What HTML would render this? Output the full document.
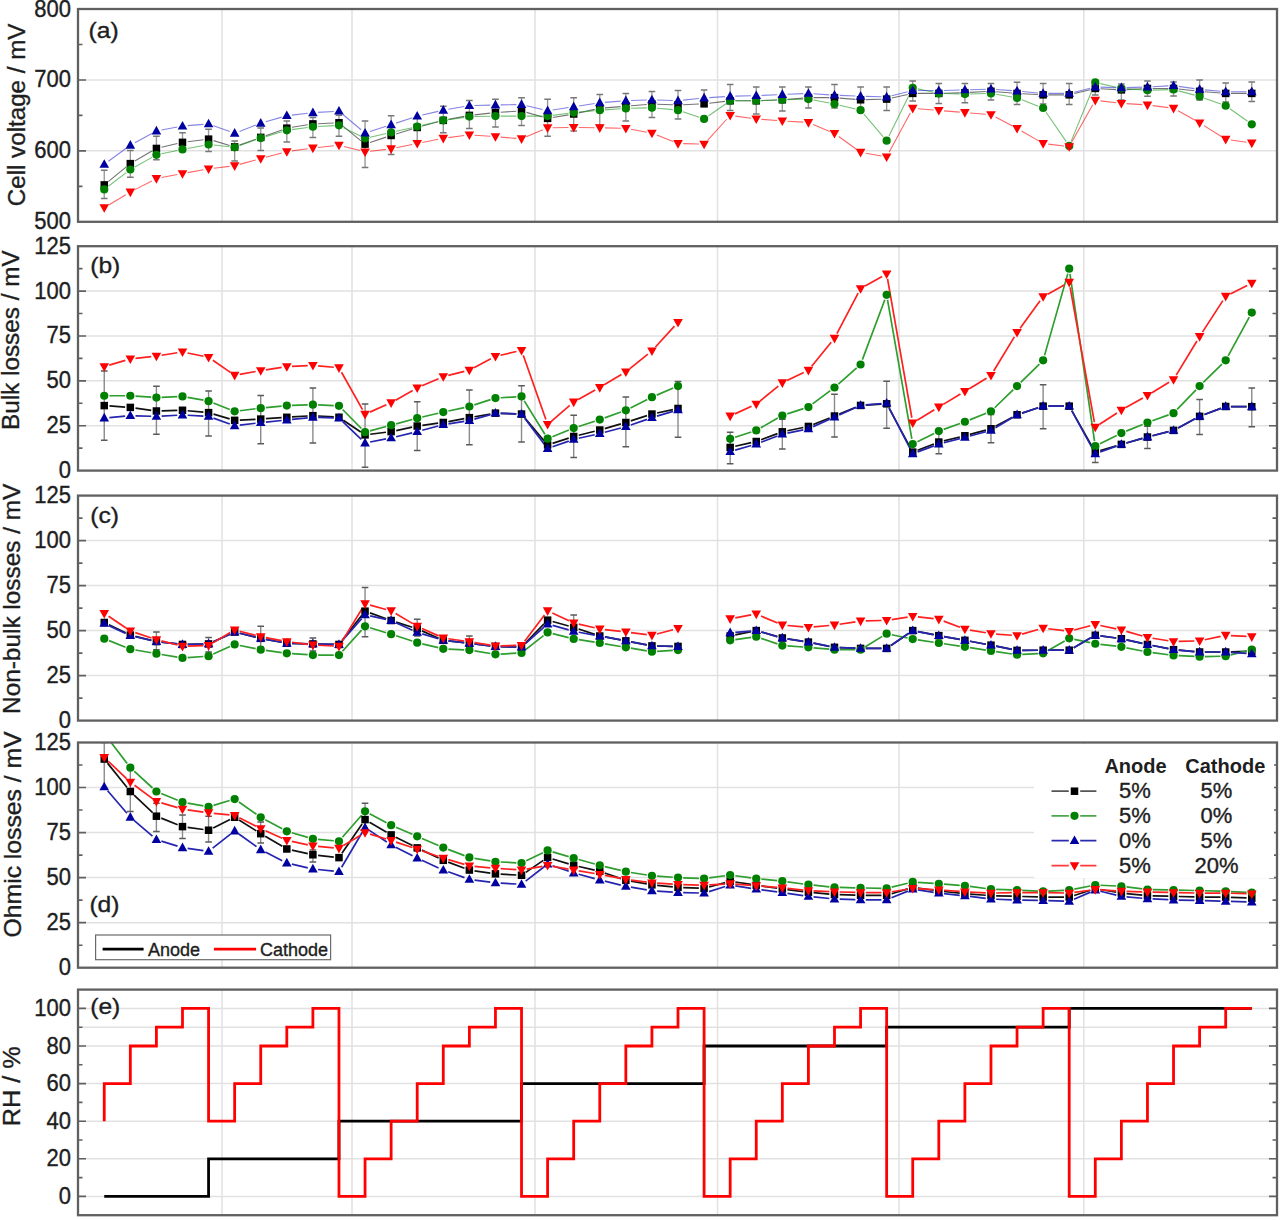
<!DOCTYPE html>
<html><head><meta charset="utf-8"><style>
html,body{margin:0;padding:0;background:#fff;}
body{width:1280px;height:1220px;overflow:hidden;font-family:"Liberation Sans", sans-serif;}
svg{display:block;}
svg text{stroke:#1e1e1e;stroke-width:0.35px;}
svg text.b{stroke:none;}
</style></head><body>
<svg width="1280" height="1220" viewBox="0 0 1280 1220">
<rect width="1280" height="1220" fill="#fff"/>
<defs>
<clipPath id="cpa"><rect x="78" y="9" width="1199" height="212.8"/></clipPath>
<clipPath id="cpb"><rect x="78" y="246.2" width="1199" height="224.4"/></clipPath>
<clipPath id="cpc"><rect x="78" y="495.6" width="1199" height="225"/></clipPath>
<clipPath id="cpd"><rect x="78" y="742.5" width="1199" height="225.2"/></clipPath>
<clipPath id="cpe"><rect x="78" y="989.6" width="1199" height="225.6"/></clipPath>
</defs>
<g font-family='"Liberation Sans", sans-serif' font-size="22" fill="#1e1e1e">
<path d="M78 79.93H1277M78 150.87H1277M222 9V221.8M352 9V221.8M535 9V221.8M717.5 9V221.8M899 9V221.8M1083.8 9V221.8" stroke="#e1e1e1" stroke-width="1.5" fill="none"/>
<g clip-path="url(#cpa)">
<path d="M104.25 170.3V198.4M130.33 150.4V177.3M156.41 136.3V159.8M182.49 132.8V151.6M208.57 129.3V151.6M234.65 141V161M260.73 128V150.4M286.81 121V142M312.89 117.6V137.5M338.97 115.2V136.3M365.05 121V167.5M391.13 115.7V154.4M417.21 118V141M443.29 106.3V132.8M469.37 100.5V128.6M495.45 99.3V127M521.53 97.7V125.5M547.61 99.3V136.3M573.69 97.7V131M599.77 94.6V125M625.85 93.4V121M651.93 91.6V117.4M678.01 90.5V119M704.09 90V105.7M730.17 84.6V110.4M756.25 87V114M782.33 87V111M808.41 87V108M834.49 84.6V108M860.57 87V108M886.65 87V110.4M912.73 81V101M938.81 83.4V103.4M964.89 83.4V102.7M990.97 83.4V100M1017.05 82.3V104.5M1043.13 83.4V104M1069.21 83.4V104.5M1095.29 82V95M1121.37 84V100M1147.45 81V96.3M1173.53 82V96M1199.61 80V100M1225.69 83V102M1251.77 81.9V101.4" stroke="#9a9a9a" stroke-width="1.4" fill="none"/>
<path d="M100.95 170.3H107.55M100.95 198.4H107.55M127.03 150.4H133.63M127.03 177.3H133.63M153.11 136.3H159.71M153.11 159.8H159.71M179.19 132.8H185.79M179.19 151.6H185.79M205.27 129.3H211.87M205.27 151.6H211.87M231.35 141H237.95M231.35 161H237.95M257.43 128H264.03M257.43 150.4H264.03M283.51 121H290.11M283.51 142H290.11M309.59 117.6H316.19M309.59 137.5H316.19M335.67 115.2H342.27M335.67 136.3H342.27M361.75 121H368.35M361.75 167.5H368.35M387.83 115.7H394.43M387.83 154.4H394.43M413.91 118H420.51M413.91 141H420.51M439.99 106.3H446.59M439.99 132.8H446.59M466.07 100.5H472.67M466.07 128.6H472.67M492.15 99.3H498.75M492.15 127H498.75M518.23 97.7H524.83M518.23 125.5H524.83M544.31 99.3H550.91M544.31 136.3H550.91M570.39 97.7H576.99M570.39 131H576.99M596.47 94.6H603.07M596.47 125H603.07M622.55 93.4H629.15M622.55 121H629.15M648.63 91.6H655.23M648.63 117.4H655.23M674.71 90.5H681.31M674.71 119H681.31M700.79 90H707.39M700.79 105.7H707.39M726.87 84.6H733.47M726.87 110.4H733.47M752.95 87H759.55M752.95 114H759.55M779.03 87H785.63M779.03 111H785.63M805.11 87H811.71M805.11 108H811.71M831.19 84.6H837.79M831.19 108H837.79M857.27 87H863.87M857.27 108H863.87M883.35 87H889.95M883.35 110.4H889.95M909.43 81H916.03M909.43 101H916.03M935.51 83.4H942.11M935.51 103.4H942.11M961.59 83.4H968.19M961.59 102.7H968.19M987.67 83.4H994.27M987.67 100H994.27M1013.75 82.3H1020.35M1013.75 104.5H1020.35M1039.83 83.4H1046.43M1039.83 104H1046.43M1065.91 83.4H1072.51M1065.91 104.5H1072.51M1091.99 82H1098.59M1091.99 95H1098.59M1118.07 84H1124.67M1118.07 100H1124.67M1144.15 81H1150.75M1144.15 96.3H1150.75M1170.23 82H1176.83M1170.23 96H1176.83M1196.31 80H1202.91M1196.31 100H1202.91M1222.39 83H1228.99M1222.39 102H1228.99M1248.47 81.9H1255.07M1248.47 101.4H1255.07" stroke="#777" stroke-width="1.5" fill="none"/>
<path d="M108.28 181.63L126.3 166.92M134.82 161.02L151.92 151.07M161.47 147.27L177.43 143.54M187.65 141.72L203.41 139.79M213.56 140.64L229.66 145.42M239.54 145.11L255.84 139.17M265.63 135.66L281.91 129.9M291.94 127.33L307.76 124.75M318.09 123.69L333.77 123M342.99 126.07L361.03 140.83M369.99 142.49L386.19 137.11M396.1 133.95L412.24 128.99M422.23 126.09L438.27 121.73M448.4 119.39L464.26 116.37M474.54 114.84L490.28 113.13M500.64 112.24L516.34 111.26M526.53 112.36L542.61 116.95M552.74 117.51L568.56 114.85M578.77 112.88L594.69 109.41M604.95 107.88L620.67 106.6M631.03 105.76L646.75 104.47M657.13 104.22L672.81 104.73M683.21 104.69L698.89 104.05M709.25 103.23L725.01 101.39M735.37 100.79L751.05 100.79M761.45 100.59L777.13 99.99M787.51 99.37L803.23 98.09M813.61 97.67L829.29 97.67M839.67 98.09L855.39 99.37M865.77 99.65L881.45 99.23M891.73 97.98L907.65 94.52M917.93 93.41L933.61 93.41M944.01 93.27L959.69 92.84M970.08 92.42L985.78 91.57M996.15 91.71L1011.87 92.99M1022.24 93.69L1037.94 94.55M1048.33 94.83L1064.01 94.83M1074.26 93.59L1090.24 89.68M1100.48 88.73L1116.18 89.58M1126.56 89.58L1142.26 88.73M1152.65 88.45L1168.33 88.45M1178.7 89.01L1194.44 90.72M1204.79 91.71L1220.51 92.99M1230.89 93.41L1246.57 93.41" stroke="#000" stroke-width="1.1" fill="none" stroke-opacity="0.55" stroke-linecap="butt"/>
<path d="M108.38 186.3L126.2 172.68M134.86 166.97L151.88 157.39M161.5 153.79L177.4 150.5M187.6 148.48L203.46 145.46M213.74 145.05L229.48 146.76M239.55 145.59L255.83 139.83M265.71 136.61L281.83 131.79M291.96 129.6L307.74 127.45M318.08 126.47L333.78 125.61M343.63 127.65L360.39 135.99M370.12 137.17L386.06 133.57M396.2 131.28L412.14 127.68M422.27 125.34L438.23 121.56M448.44 119.62L464.22 117.35M474.57 116.51L490.25 116.21M500.65 116.11L516.33 116.11M526.73 116.11L542.41 116.11M552.76 115.41L568.54 113.26M578.87 112.1L594.59 110.69M604.96 109.87L620.66 108.8M631.05 108.31L646.73 107.88M657.11 108.22L672.83 109.67M682.94 111.81L699.16 117.28M708.36 115.98L725.9 103.76M735.37 100.79L751.05 100.79M761.45 100.59L777.13 99.99M787.53 99.65L803.21 99.23M813.52 100.06L829.38 103.08M839.55 105.24L855.51 108.97M863.94 114.11L883.28 136.77M888.95 136.06L910.43 92.4M917.81 88.84L933.73 92.31M944.01 93.55L959.69 93.98M970.09 93.98L985.77 93.55M996.09 94.3L1011.93 97.06M1021.9 99.82L1038.28 106.15M1046.08 112.31L1066.26 141.62M1071.19 141.09L1093.31 87.23M1100.36 83.59L1116.3 87.27M1126.56 88.8L1142.26 89.87M1152.65 90.08L1168.33 89.65M1178.55 90.85L1194.59 95.12M1204.51 98.21L1220.79 104.01M1229.92 108.77L1247.54 121.32" stroke="#1a9a1a" stroke-width="1.1" fill="none" stroke-opacity="0.6" stroke-linecap="butt"/>
<path d="M108.44 161.27L126.14 148.27M134.9 142.71L151.84 133.49M161.52 130.03L177.38 127.01M187.67 125.62L203.39 124.33M213.46 125.67L229.76 131.52M239.5 131.4L255.88 125.08M265.73 121.76L281.81 117.12M291.98 115.09L307.72 113.29M318.08 112.39L333.78 111.45M342.95 114.5L361.07 129.78M370 131.54L386.18 126.35M396.07 123.13L412.27 117.75M422.28 114.96L438.22 111.37M448.41 109.32L464.25 106.52M474.57 105.48L490.25 105.1M500.65 104.87L516.33 104.58M526.59 105.69L542.55 109.51M552.75 109.94L568.55 107.53M578.83 105.96L594.63 103.56M604.95 102.36L620.67 101.13M631.05 100.53L646.73 99.98M657.13 99.98L672.81 100.53M683.18 100.17L698.92 98.5M709.28 97.61L724.98 96.59M735.37 96.13L751.05 95.79M761.44 95.44L777.14 94.71M787.53 94.26L803.21 93.62M813.6 93.76L829.3 94.83M839.69 95.4L855.37 96.04M865.77 96.39L881.45 96.82M891.7 95.72L907.68 91.81M917.93 90.57L933.61 90.57M944.01 90.43L959.69 90.01M970.09 89.72L985.77 89.3M996.16 89.52L1011.86 90.63M1022.23 91.48L1037.95 92.93M1048.33 93.41L1064.01 93.41M1074.26 92.17L1090.24 88.26M1100.49 87.17L1116.17 87.59M1126.57 87.59L1142.25 87.17M1152.64 86.74L1168.34 85.89M1178.68 86.35L1194.46 88.63M1204.79 89.83L1220.51 91.24M1230.89 91.71L1246.57 91.71" stroke="#2020d0" stroke-width="1.1" fill="none" stroke-opacity="0.55" stroke-linecap="butt"/>
<path d="M108.71 204.94L125.87 194.68M134.95 189.62L151.79 180.92M161.52 177.56L177.38 174.54M187.61 172.65L203.45 169.8M213.73 168.27L229.49 166.38M239.67 164.4L255.71 160.03M265.75 157.3L281.79 152.94M291.96 150.88L307.74 148.73M318.06 147.47L333.8 145.75M344.01 146.48L360.01 150.57M370.21 151.24L385.97 149.36M396.23 147.7L412.11 144.46M422.31 142.42L438.19 139.31M448.44 137.62L464.22 135.52M474.56 135.2L490.26 136.31M500.63 137.1L516.35 138.39M526.32 136.78L542.82 129.77M552.81 127.69L568.49 127.52M578.89 127.52L594.57 127.69M604.97 127.87L620.65 128.25M630.97 129.31L646.81 132.2M656.76 135.05L673.18 141.57M683.21 143.63L698.89 144.06M707.58 140.34L726.68 119.25M735.32 116.1L751.1 118.25M761.44 119.33L777.14 120.48M787.52 121.19L803.22 122.17M813.21 124.5L829.69 131.41M838.7 136.47L856.36 149.24M865.69 153.18L881.53 155.93M889.11 152.24L910.27 112.89M917.91 108.73L933.63 110.01M943.99 110.86L959.71 112.14M970.07 112.99L985.79 114.27M995.57 117.11L1012.45 125.96M1021.55 130.99L1038.63 140.88M1048.29 144.11L1064.05 145.99M1071.76 142.08L1092.74 104.75M1100.45 100.84L1116.21 102.72M1126.56 103.67L1142.26 104.65M1152.61 105.63L1168.37 107.65M1178.07 110.84L1195.07 120.32M1204.01 125.61L1221.29 136.47M1230.83 139.99L1246.63 142.31" stroke="#ff0000" stroke-width="1.1" fill="none" stroke-opacity="0.6" stroke-linecap="butt"/>
<rect x="100.5" y="181.16" width="7.5" height="7.5" fill="#000"/><rect x="126.58" y="159.88" width="7.5" height="7.5" fill="#000"/><rect x="152.66" y="144.7" width="7.5" height="7.5" fill="#000"/><rect x="178.74" y="138.6" width="7.5" height="7.5" fill="#000"/><rect x="204.82" y="135.41" width="7.5" height="7.5" fill="#000"/><rect x="230.9" y="143.14" width="7.5" height="7.5" fill="#000"/><rect x="256.98" y="133.64" width="7.5" height="7.5" fill="#000"/><rect x="283.06" y="124.42" width="7.5" height="7.5" fill="#000"/><rect x="309.14" y="120.16" width="7.5" height="7.5" fill="#000"/><rect x="335.22" y="119.03" width="7.5" height="7.5" fill="#000"/><rect x="361.3" y="140.38" width="7.5" height="7.5" fill="#000"/><rect x="387.38" y="131.72" width="7.5" height="7.5" fill="#000"/><rect x="413.46" y="123.71" width="7.5" height="7.5" fill="#000"/><rect x="439.54" y="116.62" width="7.5" height="7.5" fill="#000"/><rect x="465.62" y="111.65" width="7.5" height="7.5" fill="#000"/><rect x="491.7" y="108.81" width="7.5" height="7.5" fill="#000"/><rect x="517.78" y="107.18" width="7.5" height="7.5" fill="#000"/><rect x="543.86" y="114.63" width="7.5" height="7.5" fill="#000"/><rect x="569.94" y="110.23" width="7.5" height="7.5" fill="#000"/><rect x="596.02" y="104.56" width="7.5" height="7.5" fill="#000"/><rect x="622.1" y="102.43" width="7.5" height="7.5" fill="#000"/><rect x="648.18" y="100.3" width="7.5" height="7.5" fill="#000"/><rect x="674.26" y="101.15" width="7.5" height="7.5" fill="#000"/><rect x="700.34" y="100.09" width="7.5" height="7.5" fill="#000"/><rect x="726.42" y="97.04" width="7.5" height="7.5" fill="#000"/><rect x="752.5" y="97.04" width="7.5" height="7.5" fill="#000"/><rect x="778.58" y="96.04" width="7.5" height="7.5" fill="#000"/><rect x="804.66" y="93.92" width="7.5" height="7.5" fill="#000"/><rect x="830.74" y="93.92" width="7.5" height="7.5" fill="#000"/><rect x="856.82" y="96.04" width="7.5" height="7.5" fill="#000"/><rect x="882.9" y="95.34" width="7.5" height="7.5" fill="#000"/><rect x="908.98" y="89.66" width="7.5" height="7.5" fill="#000"/><rect x="935.06" y="89.66" width="7.5" height="7.5" fill="#000"/><rect x="961.14" y="88.95" width="7.5" height="7.5" fill="#000"/><rect x="987.22" y="87.53" width="7.5" height="7.5" fill="#000"/><rect x="1013.3" y="89.66" width="7.5" height="7.5" fill="#000"/><rect x="1039.38" y="91.08" width="7.5" height="7.5" fill="#000"/><rect x="1065.46" y="91.08" width="7.5" height="7.5" fill="#000"/><rect x="1091.54" y="84.7" width="7.5" height="7.5" fill="#000"/><rect x="1117.62" y="86.11" width="7.5" height="7.5" fill="#000"/><rect x="1143.7" y="84.7" width="7.5" height="7.5" fill="#000"/><rect x="1169.78" y="84.7" width="7.5" height="7.5" fill="#000"/><rect x="1195.86" y="87.53" width="7.5" height="7.5" fill="#000"/><rect x="1221.94" y="89.66" width="7.5" height="7.5" fill="#000"/><rect x="1248.02" y="89.66" width="7.5" height="7.5" fill="#000"/>
<circle cx="104.25" cy="189.45" r="4.1" fill="#008000"/><circle cx="130.33" cy="169.52" r="4.1" fill="#008000"/><circle cx="156.41" cy="154.84" r="4.1" fill="#008000"/><circle cx="182.49" cy="149.45" r="4.1" fill="#008000"/><circle cx="208.57" cy="144.48" r="4.1" fill="#008000"/><circle cx="234.65" cy="147.32" r="4.1" fill="#008000"/><circle cx="260.73" cy="138.1" r="4.1" fill="#008000"/><circle cx="286.81" cy="130.3" r="4.1" fill="#008000"/><circle cx="312.89" cy="126.75" r="4.1" fill="#008000"/><circle cx="338.97" cy="125.33" r="4.1" fill="#008000"/><circle cx="365.05" cy="138.31" r="4.1" fill="#008000"/><circle cx="391.13" cy="132.42" r="4.1" fill="#008000"/><circle cx="417.21" cy="126.54" r="4.1" fill="#008000"/><circle cx="443.29" cy="120.37" r="4.1" fill="#008000"/><circle cx="469.37" cy="116.61" r="4.1" fill="#008000"/><circle cx="495.45" cy="116.11" r="4.1" fill="#008000"/><circle cx="521.53" cy="116.11" r="4.1" fill="#008000"/><circle cx="547.61" cy="116.11" r="4.1" fill="#008000"/><circle cx="573.69" cy="112.56" r="4.1" fill="#008000"/><circle cx="599.77" cy="110.22" r="4.1" fill="#008000"/><circle cx="625.85" cy="108.45" r="4.1" fill="#008000"/><circle cx="651.93" cy="107.74" r="4.1" fill="#008000"/><circle cx="678.01" cy="110.15" r="4.1" fill="#008000"/><circle cx="704.09" cy="118.95" r="4.1" fill="#008000"/><circle cx="730.17" cy="100.79" r="4.1" fill="#008000"/><circle cx="756.25" cy="100.79" r="4.1" fill="#008000"/><circle cx="782.33" cy="99.79" r="4.1" fill="#008000"/><circle cx="808.41" cy="99.09" r="4.1" fill="#008000"/><circle cx="834.49" cy="104.05" r="4.1" fill="#008000"/><circle cx="860.57" cy="110.15" r="4.1" fill="#008000"/><circle cx="886.65" cy="140.72" r="4.1" fill="#008000"/><circle cx="912.73" cy="87.74" r="4.1" fill="#008000"/><circle cx="938.81" cy="93.41" r="4.1" fill="#008000"/><circle cx="964.89" cy="94.12" r="4.1" fill="#008000"/><circle cx="990.97" cy="93.41" r="4.1" fill="#008000"/><circle cx="1017.05" cy="97.95" r="4.1" fill="#008000"/><circle cx="1043.13" cy="108.02" r="4.1" fill="#008000"/><circle cx="1069.21" cy="145.9" r="4.1" fill="#008000"/><circle cx="1095.29" cy="82.42" r="4.1" fill="#008000"/><circle cx="1121.37" cy="88.45" r="4.1" fill="#008000"/><circle cx="1147.45" cy="90.22" r="4.1" fill="#008000"/><circle cx="1173.53" cy="89.51" r="4.1" fill="#008000"/><circle cx="1199.61" cy="96.46" r="4.1" fill="#008000"/><circle cx="1225.69" cy="105.75" r="4.1" fill="#008000"/><circle cx="1251.77" cy="124.34" r="4.1" fill="#008000"/>
<path d="M104.25 159.18L109.05 167.78L99.45 167.78Z" fill="#0000a0"/><path d="M130.33 140.03L135.13 148.63L125.53 148.63Z" fill="#0000a0"/><path d="M156.41 125.85L161.21 134.45L151.61 134.45Z" fill="#0000a0"/><path d="M182.49 120.88L187.29 129.48L177.69 129.48Z" fill="#0000a0"/><path d="M208.57 118.75L213.37 127.35L203.77 127.35Z" fill="#0000a0"/><path d="M234.65 128.12L239.45 136.72L229.85 136.72Z" fill="#0000a0"/><path d="M260.73 118.04L265.53 126.64L255.93 126.64Z" fill="#0000a0"/><path d="M286.81 110.52L291.61 119.12L282.01 119.12Z" fill="#0000a0"/><path d="M312.89 107.54L317.69 116.14L308.09 116.14Z" fill="#0000a0"/><path d="M338.97 105.98L343.77 114.58L334.17 114.58Z" fill="#0000a0"/><path d="M365.05 127.97L369.85 136.57L360.25 136.57Z" fill="#0000a0"/><path d="M391.13 119.6L395.93 128.2L386.33 128.2Z" fill="#0000a0"/><path d="M417.21 110.95L422.01 119.55L412.41 119.55Z" fill="#0000a0"/><path d="M443.29 105.06L448.09 113.66L438.49 113.66Z" fill="#0000a0"/><path d="M469.37 100.45L474.17 109.05L464.57 109.05Z" fill="#0000a0"/><path d="M495.45 99.81L500.25 108.41L490.65 108.41Z" fill="#0000a0"/><path d="M521.53 99.32L526.33 107.92L516.73 107.92Z" fill="#0000a0"/><path d="M547.61 105.56L552.41 114.16L542.81 114.16Z" fill="#0000a0"/><path d="M573.69 101.59L578.49 110.19L568.89 110.19Z" fill="#0000a0"/><path d="M599.77 97.61L604.57 106.21L594.97 106.21Z" fill="#0000a0"/><path d="M625.85 95.56L630.65 104.16L621.05 104.16Z" fill="#0000a0"/><path d="M651.93 94.63L656.73 103.23L647.13 103.23Z" fill="#0000a0"/><path d="M678.01 95.56L682.81 104.16L673.21 104.16Z" fill="#0000a0"/><path d="M704.09 92.79L708.89 101.39L699.29 101.39Z" fill="#0000a0"/><path d="M730.17 91.09L734.97 99.69L725.37 99.69Z" fill="#0000a0"/><path d="M756.25 90.52L761.05 99.12L751.45 99.12Z" fill="#0000a0"/><path d="M782.33 89.31L787.13 97.91L777.53 97.91Z" fill="#0000a0"/><path d="M808.41 88.25L813.21 96.85L803.61 96.85Z" fill="#0000a0"/><path d="M834.49 90.02L839.29 98.62L829.69 98.62Z" fill="#0000a0"/><path d="M860.57 91.09L865.37 99.69L855.77 99.69Z" fill="#0000a0"/><path d="M886.65 91.8L891.45 100.4L881.85 100.4Z" fill="#0000a0"/><path d="M912.73 85.41L917.53 94.01L907.93 94.01Z" fill="#0000a0"/><path d="M938.81 85.41L943.61 94.01L934.01 94.01Z" fill="#0000a0"/><path d="M964.89 84.7L969.69 93.3L960.09 93.3Z" fill="#0000a0"/><path d="M990.97 83.99L995.77 92.59L986.17 92.59Z" fill="#0000a0"/><path d="M1017.05 85.84L1021.85 94.44L1012.25 94.44Z" fill="#0000a0"/><path d="M1043.13 88.25L1047.93 96.85L1038.33 96.85Z" fill="#0000a0"/><path d="M1069.21 88.25L1074.01 96.85L1064.41 96.85Z" fill="#0000a0"/><path d="M1095.29 81.87L1100.09 90.47L1090.49 90.47Z" fill="#0000a0"/><path d="M1121.37 82.58L1126.17 91.18L1116.57 91.18Z" fill="#0000a0"/><path d="M1147.45 81.87L1152.25 90.47L1142.65 90.47Z" fill="#0000a0"/><path d="M1173.53 80.45L1178.33 89.05L1168.73 89.05Z" fill="#0000a0"/><path d="M1199.61 84.21L1204.41 92.81L1194.81 92.81Z" fill="#0000a0"/><path d="M1225.69 86.55L1230.49 95.15L1220.89 95.15Z" fill="#0000a0"/><path d="M1251.77 86.55L1256.57 95.15L1246.97 95.15Z" fill="#0000a0"/>
<path d="M104.25 212.77L109.05 204.17L99.45 204.17Z" fill="#ff0000"/><path d="M130.33 197.17L135.13 188.57L125.53 188.57Z" fill="#ff0000"/><path d="M156.41 183.69L161.21 175.09L151.61 175.09Z" fill="#ff0000"/><path d="M182.49 178.73L187.29 170.13L177.69 170.13Z" fill="#ff0000"/><path d="M208.57 174.04L213.37 165.44L203.77 165.44Z" fill="#ff0000"/><path d="M234.65 170.92L239.45 162.32L229.85 162.32Z" fill="#ff0000"/><path d="M260.73 163.83L265.53 155.23L255.93 155.23Z" fill="#ff0000"/><path d="M286.81 156.74L291.61 148.14L282.01 148.14Z" fill="#ff0000"/><path d="M312.89 153.19L317.69 144.59L308.09 144.59Z" fill="#ff0000"/><path d="M338.97 150.35L343.77 141.75L334.17 141.75Z" fill="#ff0000"/><path d="M365.05 157.02L369.85 148.42L360.25 148.42Z" fill="#ff0000"/><path d="M391.13 153.9L395.93 145.3L386.33 145.3Z" fill="#ff0000"/><path d="M417.21 148.58L422.01 139.98L412.41 139.98Z" fill="#ff0000"/><path d="M443.29 143.47L448.09 134.87L438.49 134.87Z" fill="#ff0000"/><path d="M469.37 140L474.17 131.4L464.57 131.4Z" fill="#ff0000"/><path d="M495.45 141.84L500.25 133.24L490.65 133.24Z" fill="#ff0000"/><path d="M521.53 143.97L526.33 135.37L516.73 135.37Z" fill="#ff0000"/><path d="M547.61 132.9L552.41 124.3L542.81 124.3Z" fill="#ff0000"/><path d="M573.69 132.62L578.49 124.02L568.89 124.02Z" fill="#ff0000"/><path d="M599.77 132.9L604.57 124.3L594.97 124.3Z" fill="#ff0000"/><path d="M625.85 133.54L630.65 124.94L621.05 124.94Z" fill="#ff0000"/><path d="M651.93 138.29L656.73 129.69L647.13 129.69Z" fill="#ff0000"/><path d="M678.01 148.65L682.81 140.05L673.21 140.05Z" fill="#ff0000"/><path d="M704.09 149.36L708.89 140.76L699.29 140.76Z" fill="#ff0000"/><path d="M730.17 120.56L734.97 111.96L725.37 111.96Z" fill="#ff0000"/><path d="M756.25 124.11L761.05 115.51L751.45 115.51Z" fill="#ff0000"/><path d="M782.33 126.02L787.13 117.42L777.53 117.42Z" fill="#ff0000"/><path d="M808.41 127.65L813.21 119.05L803.61 119.05Z" fill="#ff0000"/><path d="M834.49 138.58L839.29 129.98L829.69 129.98Z" fill="#ff0000"/><path d="M860.57 157.45L865.37 148.85L855.77 148.85Z" fill="#ff0000"/><path d="M886.65 161.99L891.45 153.39L881.85 153.39Z" fill="#ff0000"/><path d="M912.73 113.47L917.53 104.87L907.93 104.87Z" fill="#ff0000"/><path d="M938.81 115.59L943.61 106.99L934.01 106.99Z" fill="#ff0000"/><path d="M964.89 117.72L969.69 109.12L960.09 109.12Z" fill="#ff0000"/><path d="M990.97 119.85L995.77 111.25L986.17 111.25Z" fill="#ff0000"/><path d="M1017.05 133.54L1021.85 124.94L1012.25 124.94Z" fill="#ff0000"/><path d="M1043.13 148.65L1047.93 140.05L1038.33 140.05Z" fill="#ff0000"/><path d="M1069.21 151.77L1074.01 143.17L1064.41 143.17Z" fill="#ff0000"/><path d="M1095.29 105.38L1100.09 96.78L1090.49 96.78Z" fill="#ff0000"/><path d="M1121.37 108.5L1126.17 99.9L1116.57 99.9Z" fill="#ff0000"/><path d="M1147.45 110.13L1152.25 101.53L1142.65 101.53Z" fill="#ff0000"/><path d="M1173.53 113.47L1178.33 104.87L1168.73 104.87Z" fill="#ff0000"/><path d="M1199.61 128.01L1204.41 119.41L1194.81 119.41Z" fill="#ff0000"/><path d="M1225.69 144.39L1230.49 135.79L1220.89 135.79Z" fill="#ff0000"/><path d="M1251.77 148.22L1256.57 139.62L1246.97 139.62Z" fill="#ff0000"/>
</g>
<path d="M78 79.93H86M78 150.87H86M78 44.47H82.5M78 115.4H82.5M78 186.33H82.5" stroke="#606060" stroke-width="1.6" fill="none"/>
<rect x="78" y="9" width="1199" height="212.8" fill="none" stroke="#606060" stroke-width="2.3"/>
<text transform="translate(71 9) scale(1 1.06)" y="7.1" text-anchor="end">800</text>
<text transform="translate(71 79.93) scale(1 1.06)" y="7.1" text-anchor="end">700</text>
<text transform="translate(71 150.87) scale(1 1.06)" y="7.1" text-anchor="end">600</text>
<text transform="translate(71 221.8) scale(1 1.06)" y="7.1" text-anchor="end">500</text>
<path d="M78 291.08H1277M78 335.96H1277M78 380.84H1277M78 425.72H1277M222 246.2V470.6M352 246.2V470.6M535 246.2V470.6M717.5 246.2V470.6M899 246.2V470.6M1083.8 246.2V470.6" stroke="#e1e1e1" stroke-width="1.5" fill="none"/>
<g clip-path="url(#cpb)">
<path d="M104.25 371V440.2M156.41 386.2V434.3M208.57 391V436M260.73 395.6V443.7M312.89 388V443M365.05 404V467.3M417.21 401.8V450.4M469.37 390V444.8M521.53 385.8V442M573.69 415.3V457.5M625.85 397V446.8M678.01 381.6V437.2M730.17 432.2V463.8M782.33 419.3V449M834.49 394.2V436.9M886.65 381.3V428.2M938.81 430V453.7M990.97 414.6V442.7M1043.13 384.8V428.7M1095.29 443.9V462.6M1147.45 426.3V448.6M1199.61 399.4V434.5M1251.77 388V426.8" stroke="#8a8a8a" stroke-width="1.4" fill="none"/>
<path d="M100.95 371H107.55M100.95 440.2H107.55M153.11 386.2H159.71M153.11 434.3H159.71M205.27 391H211.87M205.27 436H211.87M257.43 395.6H264.03M257.43 443.7H264.03M309.59 388H316.19M309.59 443H316.19M361.75 404H368.35M361.75 467.3H368.35M413.91 401.8H420.51M413.91 450.4H420.51M466.07 390H472.67M466.07 444.8H472.67M518.23 385.8H524.83M518.23 442H524.83M570.39 415.3H576.99M570.39 457.5H576.99M622.55 397H629.15M622.55 446.8H629.15M674.71 381.6H681.31M674.71 437.2H681.31M726.87 432.2H733.47M726.87 463.8H733.47M779.03 419.3H785.63M779.03 449H785.63M831.19 394.2H837.79M831.19 436.9H837.79M883.35 381.3H889.95M883.35 428.2H889.95M935.51 430H942.11M935.51 453.7H942.11M987.67 414.6H994.27M987.67 442.7H994.27M1039.83 384.8H1046.43M1039.83 428.7H1046.43M1091.99 443.9H1098.59M1091.99 462.6H1098.59M1144.15 426.3H1150.75M1144.15 448.6H1150.75M1196.31 399.4H1202.91M1196.31 434.5H1202.91M1248.47 388H1255.07M1248.47 426.8H1255.07" stroke="#5a5a5a" stroke-width="1.5" fill="none"/>
<path d="M109.44 405.97L125.14 407.05M135.48 408.12L151.26 410.29M161.61 410.86L177.29 410.42M187.67 410.74L203.39 412.15M213.56 414.09L229.66 418.86M239.84 420.08L255.54 419.33M265.92 418.72L281.62 417.64M292 416.96L307.7 415.99M318.08 415.99L333.78 416.96M343.28 420.19L360.74 431.97M370.21 434.24L385.97 432.28M396.22 430.56L412.12 427.16M422.36 425.37L438.14 423.2M448.4 421.54L464.26 418.59M474.49 416.76L490.33 414.04M500.65 413.33L516.33 413.87M524.89 418.02L544.25 440.96M552.56 443.33L568.74 438.09M578.74 435.24L594.72 431.28M604.77 428.58L620.85 423.93M630.8 420.89L646.98 415.65M657.02 412.97L672.92 409.57M735.24 446.29L751.18 442.67M761.12 439.71L777.46 433.64M787.42 430.77L803.32 427.49M813.24 424.51L829.66 417.95M839.31 414.07L855.75 407.39M865.76 405.11L881.46 404.14M889.12 408.39L910.26 447.53M917.58 450.24L933.96 443.93M943.87 440.84L959.83 436.99M969.91 434.42L985.95 430.12M995.55 426.31L1012.47 417.23M1021.99 413.14L1038.19 407.78M1048.33 406.15L1064.01 406.15M1071.78 410.67L1092.72 447.59M1100.28 450.63L1116.38 445.87M1126.37 442.98L1142.45 438.44M1152.49 435.75L1168.49 431.67M1178.11 427.93L1195.03 418.84M1204.47 414.54L1220.83 408.35M1230.89 406.55L1246.57 406.66" stroke="#111" stroke-width="1.7" fill="none" stroke-opacity="1.0" stroke-linecap="butt"/>
<path d="M109.45 395.74L125.13 395.74M135.52 396.1L151.22 397.18M161.61 397.32L177.29 396.67M187.61 397.37L203.45 400.21M213.41 403.03L229.81 409.46M239.81 410.72L255.57 408.77M265.91 407.63L281.63 406.11M292.01 405.43L307.69 404.9M318.09 404.93L333.77 405.58M342.63 409.49L361.39 428.48M370.07 430.83L386.11 426.53M396.15 423.83L412.19 419.53M422.27 417L438.23 413.26M448.38 410.99L464.28 407.6M474.32 404.91L490.5 399.67M500.64 397.75L516.34 396.78M524.26 400.88L544.88 434.22M552.43 436.69L568.87 430.01M578.64 426.45L594.82 421.22M604.67 417.86L620.95 412.03M630.5 407.95L647.28 399.51M656.71 395.14L673.23 388.09M735.12 437.22L751.3 431.99M760.77 427.81L777.81 418.07M787.28 413.89L803.46 408.65M812.57 403.93L830.33 390.6M838.39 384.04L856.67 367.94M862.39 359.63L884.83 299.72M887.55 299.97L911.83 438.91M917.39 441.72L934.15 433.41M943.71 429.35L959.99 423.52M969.72 419.84L986.14 413.29M994.7 407.74L1013.32 389.67M1020.76 382.4L1039.42 364.02M1044.55 355.37L1067.79 273.64M1069.97 273.78L1094.53 441.04M1099.94 443.85L1116.72 435.42M1126.19 431.12L1142.63 424.45M1152.35 420.74L1168.63 414.91M1177.14 409.41L1196 389.79M1203.32 382.4L1221.98 364.02M1228.18 355.81L1249.28 317.19" stroke="#2e9e2e" stroke-width="1.7" fill="none" stroke-opacity="1.0" stroke-linecap="butt"/>
<path d="M109.43 417.54L125.15 416.13M135.53 415.81L151.21 416.24M161.6 416.1L177.3 415.23M187.68 415.23L203.38 416.1M213.47 418.14L229.75 423.97M239.81 425.12L255.57 423.27M265.9 422.13L281.64 420.51M291.98 419.44L307.72 417.82M318.09 417.43L333.77 417.86M342.73 421.6L361.29 439.36M370.16 441.97L386.02 438.91M396.19 436.71L412.15 432.86M422.23 430.3L438.27 425.99M448.43 423.83L464.23 421.33M474.37 419.1L490.45 414.57M500.65 413.33L516.33 413.87M524.67 418.2L544.47 444.37M552.52 446.8L568.78 441.09M578.77 438.24L594.69 434.74M604.79 432.27L620.83 427.97M630.77 424.93L647.01 419.33M656.92 416.17L673.02 411.4M735.17 450.13L751.25 445.48M761.11 442.19L777.47 436M787.42 433.11L803.32 429.82M813.16 426.65L829.74 419.23M839.24 414.98L855.82 407.56M865.75 404.97L881.47 403.56M889.03 407.72L910.35 449.1M917.6 451.91L933.94 445.84M943.85 442.75L959.85 438.67M969.91 436.04L985.95 431.74M995.43 427.72L1012.59 417.44M1021.99 413.14L1038.19 407.78M1048.33 406.15L1064.01 406.15M1071.71 410.71L1092.79 449.17M1100.19 451.97L1116.47 446.14M1126.37 442.98L1142.45 438.44M1152.49 435.75L1168.49 431.67M1178.11 427.93L1195.03 418.84M1204.47 414.54L1220.83 408.35M1230.89 406.55L1246.57 406.66" stroke="#2525b0" stroke-width="1.7" fill="none" stroke-opacity="1.0" stroke-linecap="butt"/>
<path d="M109.24 365.18L125.34 360.41M135.5 358.37L151.24 356.64M161.55 355.25L177.35 352.75M187.58 352.99L203.48 356.27M212.85 360.27L230.37 372.33M239.77 374.36L255.61 371.52M265.87 369.83L281.67 367.44M292 366.41L307.7 365.65M318.07 365.86L333.79 367.27M341.51 372.27L362.51 409.7M369.81 412.13L386.37 404.84M395.65 400.16L412.69 390.42M421.99 385.8L438.51 378.75M448.33 375.43L464.33 371.35M473.98 367.66L490.84 358.84M500.51 355.24L516.47 351.51M523.26 355.23L545.88 419.56M551.55 421.07L569.75 405.41M578.23 399.49L595.23 390.01M604.23 384.81L621.39 374.54M629.9 368.6L647.88 354.12M655.44 347.02L674.5 326.16M734.9 413.88L751.52 406.33M760.27 400.88L778.31 386.11M787.01 380.56L803.73 372.51M811.7 366.22L831.2 342.32M836.91 333.69L858.15 293.17M865.1 286.01L882.12 276.4M887.55 278.97L911.83 417.73M917.18 420.15L934.36 409.74M943.27 404.38L960.43 394.1M969.32 388.72L986.54 378.17M993.66 371.01L1014.36 336.82M1020.12 328.17L1040.06 300.85M1047.69 294.14L1064.65 284.79M1070.13 287.4L1094.37 422.04M1099.64 424.31L1117.02 412.95M1125.9 407.55L1142.92 397.94M1151.9 392.69L1169.08 382.28M1176.22 375.13L1196.92 340.95M1202.44 332.14L1222.86 300.65M1230.34 293.95L1247.12 285.52" stroke="#ff2020" stroke-width="1.7" fill="none" stroke-opacity="1.0" stroke-linecap="butt"/>
<rect x="100.5" y="401.86" width="7.5" height="7.5" fill="#000"/><rect x="126.58" y="403.66" width="7.5" height="7.5" fill="#000"/><rect x="152.66" y="407.25" width="7.5" height="7.5" fill="#000"/><rect x="178.74" y="406.53" width="7.5" height="7.5" fill="#000"/><rect x="204.82" y="408.87" width="7.5" height="7.5" fill="#000"/><rect x="230.9" y="416.58" width="7.5" height="7.5" fill="#000"/><rect x="256.98" y="415.33" width="7.5" height="7.5" fill="#000"/><rect x="283.06" y="413.53" width="7.5" height="7.5" fill="#000"/><rect x="309.14" y="411.92" width="7.5" height="7.5" fill="#000"/><rect x="335.22" y="413.53" width="7.5" height="7.5" fill="#000"/><rect x="361.3" y="431.13" width="7.5" height="7.5" fill="#000"/><rect x="387.38" y="427.89" width="7.5" height="7.5" fill="#000"/><rect x="413.46" y="422.33" width="7.5" height="7.5" fill="#000"/><rect x="439.54" y="418.74" width="7.5" height="7.5" fill="#000"/><rect x="465.62" y="413.89" width="7.5" height="7.5" fill="#000"/><rect x="491.7" y="409.4" width="7.5" height="7.5" fill="#000"/><rect x="517.78" y="410.3" width="7.5" height="7.5" fill="#000"/><rect x="543.86" y="441.18" width="7.5" height="7.5" fill="#000"/><rect x="569.94" y="432.74" width="7.5" height="7.5" fill="#000"/><rect x="596.02" y="426.28" width="7.5" height="7.5" fill="#000"/><rect x="622.1" y="418.74" width="7.5" height="7.5" fill="#000"/><rect x="648.18" y="410.3" width="7.5" height="7.5" fill="#000"/><rect x="674.26" y="404.74" width="7.5" height="7.5" fill="#000"/><rect x="726.42" y="443.69" width="7.5" height="7.5" fill="#000"/><rect x="752.5" y="437.77" width="7.5" height="7.5" fill="#000"/><rect x="778.58" y="428.07" width="7.5" height="7.5" fill="#000"/><rect x="804.66" y="422.69" width="7.5" height="7.5" fill="#000"/><rect x="830.74" y="412.28" width="7.5" height="7.5" fill="#000"/><rect x="856.82" y="401.68" width="7.5" height="7.5" fill="#000"/><rect x="882.9" y="400.07" width="7.5" height="7.5" fill="#000"/><rect x="908.98" y="448.36" width="7.5" height="7.5" fill="#000"/><rect x="935.06" y="438.31" width="7.5" height="7.5" fill="#000"/><rect x="961.14" y="432.02" width="7.5" height="7.5" fill="#000"/><rect x="987.22" y="425.02" width="7.5" height="7.5" fill="#000"/><rect x="1013.3" y="411.02" width="7.5" height="7.5" fill="#000"/><rect x="1039.38" y="402.4" width="7.5" height="7.5" fill="#000"/><rect x="1065.46" y="402.4" width="7.5" height="7.5" fill="#000"/><rect x="1091.54" y="448.36" width="7.5" height="7.5" fill="#000"/><rect x="1117.62" y="440.64" width="7.5" height="7.5" fill="#000"/><rect x="1143.7" y="433.28" width="7.5" height="7.5" fill="#000"/><rect x="1169.78" y="426.64" width="7.5" height="7.5" fill="#000"/><rect x="1195.86" y="412.63" width="7.5" height="7.5" fill="#000"/><rect x="1221.94" y="402.76" width="7.5" height="7.5" fill="#000"/><rect x="1248.02" y="402.94" width="7.5" height="7.5" fill="#000"/>
<circle cx="104.25" cy="395.74" r="4.1" fill="#008000"/><circle cx="130.33" cy="395.74" r="4.1" fill="#008000"/><circle cx="156.41" cy="397.54" r="4.1" fill="#008000"/><circle cx="182.49" cy="396.46" r="4.1" fill="#008000"/><circle cx="208.57" cy="401.13" r="4.1" fill="#008000"/><circle cx="234.65" cy="411.36" r="4.1" fill="#008000"/><circle cx="260.73" cy="408.13" r="4.1" fill="#008000"/><circle cx="286.81" cy="405.61" r="4.1" fill="#008000"/><circle cx="312.89" cy="404.72" r="4.1" fill="#008000"/><circle cx="338.97" cy="405.79" r="4.1" fill="#008000"/><circle cx="365.05" cy="432.18" r="4.1" fill="#008000"/><circle cx="391.13" cy="425.18" r="4.1" fill="#008000"/><circle cx="417.21" cy="418.18" r="4.1" fill="#008000"/><circle cx="443.29" cy="412.08" r="4.1" fill="#008000"/><circle cx="469.37" cy="406.51" r="4.1" fill="#008000"/><circle cx="495.45" cy="398.07" r="4.1" fill="#008000"/><circle cx="521.53" cy="396.46" r="4.1" fill="#008000"/><circle cx="547.61" cy="438.65" r="4.1" fill="#008000"/><circle cx="573.69" cy="428.05" r="4.1" fill="#008000"/><circle cx="599.77" cy="419.62" r="4.1" fill="#008000"/><circle cx="625.85" cy="410.28" r="4.1" fill="#008000"/><circle cx="651.93" cy="397.18" r="4.1" fill="#008000"/><circle cx="678.01" cy="386.05" r="4.1" fill="#008000"/><circle cx="730.17" cy="438.82" r="4.1" fill="#008000"/><circle cx="756.25" cy="430.39" r="4.1" fill="#008000"/><circle cx="782.33" cy="415.49" r="4.1" fill="#008000"/><circle cx="808.41" cy="407.05" r="4.1" fill="#008000"/><circle cx="834.49" cy="387.48" r="4.1" fill="#008000"/><circle cx="860.57" cy="364.5" r="4.1" fill="#008000"/><circle cx="886.65" cy="294.85" r="4.1" fill="#008000"/><circle cx="912.73" cy="444.03" r="4.1" fill="#008000"/><circle cx="938.81" cy="431.11" r="4.1" fill="#008000"/><circle cx="964.89" cy="421.77" r="4.1" fill="#008000"/><circle cx="990.97" cy="411.36" r="4.1" fill="#008000"/><circle cx="1017.05" cy="386.05" r="4.1" fill="#008000"/><circle cx="1043.13" cy="360.37" r="4.1" fill="#008000"/><circle cx="1069.21" cy="268.64" r="4.1" fill="#008000"/><circle cx="1095.29" cy="446.19" r="4.1" fill="#008000"/><circle cx="1121.37" cy="433.08" r="4.1" fill="#008000"/><circle cx="1147.45" cy="422.49" r="4.1" fill="#008000"/><circle cx="1173.53" cy="413.15" r="4.1" fill="#008000"/><circle cx="1199.61" cy="386.05" r="4.1" fill="#008000"/><circle cx="1225.69" cy="360.37" r="4.1" fill="#008000"/><circle cx="1251.77" cy="312.62" r="4.1" fill="#008000"/>
<path d="M104.25 412.84L109.05 421.44L99.45 421.44Z" fill="#0000a0"/><path d="M130.33 410.51L135.13 419.11L125.53 419.11Z" fill="#0000a0"/><path d="M156.41 411.22L161.21 419.82L151.61 419.82Z" fill="#0000a0"/><path d="M182.49 409.79L187.29 418.39L177.69 418.39Z" fill="#0000a0"/><path d="M208.57 411.22L213.37 419.82L203.77 419.82Z" fill="#0000a0"/><path d="M234.65 420.56L239.45 429.16L229.85 429.16Z" fill="#0000a0"/><path d="M260.73 417.51L265.53 426.11L255.93 426.11Z" fill="#0000a0"/><path d="M286.81 414.82L291.61 423.42L282.01 423.42Z" fill="#0000a0"/><path d="M312.89 412.12L317.69 420.72L308.09 420.72Z" fill="#0000a0"/><path d="M338.97 412.84L343.77 421.44L334.17 421.44Z" fill="#0000a0"/><path d="M365.05 437.79L369.85 446.39L360.25 446.39Z" fill="#0000a0"/><path d="M391.13 432.77L395.93 441.37L386.33 441.37Z" fill="#0000a0"/><path d="M417.21 426.48L422.01 435.08L412.41 435.08Z" fill="#0000a0"/><path d="M443.29 419.48L448.09 428.08L438.49 428.08Z" fill="#0000a0"/><path d="M469.37 415.35L474.17 423.95L464.57 423.95Z" fill="#0000a0"/><path d="M495.45 407.99L500.25 416.59L490.65 416.59Z" fill="#0000a0"/><path d="M521.53 408.89L526.33 417.49L516.73 417.49Z" fill="#0000a0"/><path d="M547.61 443.36L552.41 451.96L542.81 451.96Z" fill="#0000a0"/><path d="M573.69 434.2L578.49 442.8L568.89 442.8Z" fill="#0000a0"/><path d="M599.77 428.46L604.57 437.06L594.97 437.06Z" fill="#0000a0"/><path d="M625.85 421.46L630.65 430.06L621.05 430.06Z" fill="#0000a0"/><path d="M651.93 412.48L656.73 421.08L647.13 421.08Z" fill="#0000a0"/><path d="M678.01 404.76L682.81 413.36L673.21 413.36Z" fill="#0000a0"/><path d="M730.17 446.41L734.97 455.01L725.37 455.01Z" fill="#0000a0"/><path d="M756.25 438.87L761.05 447.47L751.45 447.47Z" fill="#0000a0"/><path d="M782.33 429L787.13 437.6L777.53 437.6Z" fill="#0000a0"/><path d="M808.41 423.61L813.21 432.21L803.61 432.21Z" fill="#0000a0"/><path d="M834.49 411.94L839.29 420.54L829.69 420.54Z" fill="#0000a0"/><path d="M860.57 400.27L865.37 408.87L855.77 408.87Z" fill="#0000a0"/><path d="M886.65 397.94L891.45 406.54L881.85 406.54Z" fill="#0000a0"/><path d="M912.73 448.57L917.53 457.17L907.93 457.17Z" fill="#0000a0"/><path d="M938.81 438.87L943.61 447.47L934.01 447.47Z" fill="#0000a0"/><path d="M964.89 432.23L969.69 440.83L960.09 440.83Z" fill="#0000a0"/><path d="M990.97 425.23L995.77 433.83L986.17 433.83Z" fill="#0000a0"/><path d="M1017.05 409.61L1021.85 418.21L1012.25 418.21Z" fill="#0000a0"/><path d="M1043.13 400.99L1047.93 409.59L1038.33 409.59Z" fill="#0000a0"/><path d="M1069.21 400.99L1074.01 409.59L1064.41 409.59Z" fill="#0000a0"/><path d="M1095.29 448.57L1100.09 457.17L1090.49 457.17Z" fill="#0000a0"/><path d="M1121.37 439.23L1126.17 447.83L1116.57 447.83Z" fill="#0000a0"/><path d="M1147.45 431.87L1152.25 440.47L1142.65 440.47Z" fill="#0000a0"/><path d="M1173.53 425.23L1178.33 433.83L1168.73 433.83Z" fill="#0000a0"/><path d="M1199.61 411.22L1204.41 419.82L1194.81 419.82Z" fill="#0000a0"/><path d="M1225.69 401.35L1230.49 409.95L1220.89 409.95Z" fill="#0000a0"/><path d="M1251.77 401.53L1256.57 410.13L1246.97 410.13Z" fill="#0000a0"/>
<path d="M104.25 371.82L109.05 363.22L99.45 363.22Z" fill="#ff0000"/><path d="M130.33 364.1L135.13 355.5L125.53 355.5Z" fill="#ff0000"/><path d="M156.41 361.23L161.21 352.63L151.61 352.63Z" fill="#ff0000"/><path d="M182.49 357.1L187.29 348.5L177.69 348.5Z" fill="#ff0000"/><path d="M208.57 362.48L213.37 353.88L203.77 353.88Z" fill="#ff0000"/><path d="M234.65 380.43L239.45 371.83L229.85 371.83Z" fill="#ff0000"/><path d="M260.73 375.77L265.53 367.17L255.93 367.17Z" fill="#ff0000"/><path d="M286.81 371.82L291.61 363.22L282.01 363.22Z" fill="#ff0000"/><path d="M312.89 370.56L317.69 361.96L308.09 361.96Z" fill="#ff0000"/><path d="M338.97 372.9L343.77 364.3L334.17 364.3Z" fill="#ff0000"/><path d="M365.05 419.39L369.85 410.79L360.25 410.79Z" fill="#ff0000"/><path d="M391.13 407.9L395.93 399.3L386.33 399.3Z" fill="#ff0000"/><path d="M417.21 393L422.01 384.4L412.41 384.4Z" fill="#ff0000"/><path d="M443.29 381.87L448.09 373.27L438.49 373.27Z" fill="#ff0000"/><path d="M469.37 375.23L474.17 366.63L464.57 366.63Z" fill="#ff0000"/><path d="M495.45 361.59L500.25 352.99L490.65 352.99Z" fill="#ff0000"/><path d="M521.53 355.48L526.33 346.88L516.73 346.88Z" fill="#ff0000"/><path d="M547.61 429.62L552.41 421.02L542.81 421.02Z" fill="#ff0000"/><path d="M573.69 407.18L578.49 398.58L568.89 398.58Z" fill="#ff0000"/><path d="M599.77 392.64L604.57 384.04L594.97 384.04Z" fill="#ff0000"/><path d="M625.85 377.02L630.65 368.42L621.05 368.42Z" fill="#ff0000"/><path d="M651.93 356.02L656.73 347.42L647.13 347.42Z" fill="#ff0000"/><path d="M678.01 327.48L682.81 318.88L673.21 318.88Z" fill="#ff0000"/><path d="M730.17 421.19L734.97 412.59L725.37 412.59Z" fill="#ff0000"/><path d="M756.25 409.34L761.05 400.74L751.45 400.74Z" fill="#ff0000"/><path d="M782.33 387.97L787.13 379.37L777.53 379.37Z" fill="#ff0000"/><path d="M808.41 375.41L813.21 366.81L803.61 366.81Z" fill="#ff0000"/><path d="M834.49 343.45L839.29 334.85L829.69 334.85Z" fill="#ff0000"/><path d="M860.57 293.73L865.37 285.13L855.77 285.13Z" fill="#ff0000"/><path d="M886.65 279.01L891.45 270.41L881.85 270.41Z" fill="#ff0000"/><path d="M912.73 428.01L917.53 419.41L907.93 419.41Z" fill="#ff0000"/><path d="M938.81 412.21L943.61 403.61L934.01 403.61Z" fill="#ff0000"/><path d="M964.89 396.59L969.69 387.99L960.09 387.99Z" fill="#ff0000"/><path d="M990.97 380.61L995.77 372.01L986.17 372.01Z" fill="#ff0000"/><path d="M1017.05 337.53L1021.85 328.93L1012.25 328.93Z" fill="#ff0000"/><path d="M1043.13 301.81L1047.93 293.21L1038.33 293.21Z" fill="#ff0000"/><path d="M1069.21 287.44L1074.01 278.84L1064.41 278.84Z" fill="#ff0000"/><path d="M1095.29 432.32L1100.09 423.72L1090.49 423.72Z" fill="#ff0000"/><path d="M1121.37 415.26L1126.17 406.66L1116.57 406.66Z" fill="#ff0000"/><path d="M1147.45 400.54L1152.25 391.94L1142.65 391.94Z" fill="#ff0000"/><path d="M1173.53 384.74L1178.33 376.14L1168.73 376.14Z" fill="#ff0000"/><path d="M1199.61 341.66L1204.41 333.06L1194.81 333.06Z" fill="#ff0000"/><path d="M1225.69 301.45L1230.49 292.85L1220.89 292.85Z" fill="#ff0000"/><path d="M1251.77 288.34L1256.57 279.74L1246.97 279.74Z" fill="#ff0000"/>
</g>
<path d="M78 291.08H86M1277 291.08H1269M78 335.96H86M1277 335.96H1269M78 380.84H86M1277 380.84H1269M78 425.72H86M1277 425.72H1269M78 268.64H82.5M1277 268.64H1272.5M78 313.52H82.5M1277 313.52H1272.5M78 358.4H82.5M1277 358.4H1272.5M78 403.28H82.5M1277 403.28H1272.5M78 448.16H82.5M1277 448.16H1272.5" stroke="#606060" stroke-width="1.6" fill="none"/>
<rect x="78" y="246.2" width="1199" height="224.4" fill="none" stroke="#606060" stroke-width="2.3"/>
<text transform="translate(71 246.2) scale(1 1.06)" y="7.1" text-anchor="end">125</text>
<text transform="translate(71 291.08) scale(1 1.06)" y="7.1" text-anchor="end">100</text>
<text transform="translate(71 335.96) scale(1 1.06)" y="7.1" text-anchor="end">75</text>
<text transform="translate(71 380.84) scale(1 1.06)" y="7.1" text-anchor="end">50</text>
<text transform="translate(71 425.72) scale(1 1.06)" y="7.1" text-anchor="end">25</text>
<text transform="translate(71 470.6) scale(1 1.06)" y="7.1" text-anchor="end">0</text>
<path d="M78 540.6H1277M78 585.6H1277M78 630.6H1277M78 675.6H1277M222 495.6V720.6M352 495.6V720.6M535 495.6V720.6M717.5 495.6V720.6M899 495.6V720.6M1083.8 495.6V720.6" stroke="#e1e1e1" stroke-width="1.5" fill="none"/>
<g clip-path="url(#cpc)">
<path d="M156.41 632.1V649.7M208.57 637.5V652M260.73 626.2V647.3M312.89 638V650.9M365.05 587.6V636.8M417.21 619.2V636.1M469.37 636.1V647.3M573.69 615V632" stroke="#8a8a8a" stroke-width="1.4" fill="none"/>
<path d="M153.11 632.1H159.71M153.11 649.7H159.71M205.27 637.5H211.87M205.27 652H211.87M257.43 626.2H264.03M257.43 647.3H264.03M309.59 638H316.19M309.59 650.9H316.19M361.75 587.6H368.35M361.75 636.8H368.35M413.91 619.2H420.51M413.91 636.1H420.51M466.07 636.1H472.67M466.07 647.3H472.67M570.39 615H576.99M570.39 632H576.99" stroke="#5a5a5a" stroke-width="1.5" fill="none"/>
<path d="M108.93 624.76L125.65 632.84M135.38 636.35L151.36 640.33M161.58 642.15L177.32 643.89M187.69 644.35L203.37 644.03M213.3 641.76L229.92 634.2M239.7 633.26L255.68 637.12M265.84 639.29L281.7 642.25M292.01 643.34L307.69 643.78M318.09 644.03L333.77 644.35M342.18 640.37L361.84 615.25M369.94 612.92L386.24 618.76M396.09 622.09L412.25 627.23M421.97 630.9L438.53 638.22M448.46 640.89L464.2 642.63M474.53 643.84L490.29 645.8M500.65 646.58L516.33 647.02M525.14 643.42L544 623.9M552.62 621.54L568.68 625.98M578.63 629L594.83 634.36M604.88 636.95L620.74 639.91M630.96 641.85L646.82 644.91M657.13 646.01L672.81 646.33M735.26 634.95L751.16 631.65M761.25 632.02L777.33 636.56M787.47 638.8L803.27 641.3M813.51 643.14L829.39 646.32M839.69 647.56L855.37 648.2M865.77 648.42L881.45 648.42M890.94 645.49L908.44 633.53M917.84 631.59L933.7 634.65M943.93 636.56L959.77 639.4M970 641.27L985.86 644.23M996.07 646.2L1011.95 649.38M1022.25 650.36L1037.93 650.26M1048.33 650.22L1064.01 650.22M1073.72 647.64L1090.78 637.86M1100.45 635.96L1116.21 638.02M1126.45 639.82L1142.37 643.34M1152.55 645.48L1168.43 648.66M1178.71 650.14L1194.43 651.56M1204.81 652.02L1220.49 652.02M1230.89 651.88L1246.57 651.44" stroke="#111" stroke-width="1.7" fill="none" stroke-opacity="1.0" stroke-linecap="butt"/>
<path d="M109.08 640.63L125.5 647.21M135.45 650.02L151.29 652.76M161.54 654.49L177.36 657.11M187.68 657.6L203.38 656.52M213.31 654.03L229.91 646.59M239.75 645.48L255.63 648.66M265.88 650.39L281.66 652.57M292 653.64L307.7 654.72M318.09 655.08L333.77 655.08M342.46 651.23L361.56 630.13M370.03 627.79L386.15 632.69M396.08 635.8L412.26 641.06M422.27 643.85L438.23 647.59M448.48 649.03L464.18 649.79M474.5 650.89L490.32 653.51M500.64 654.07L516.34 653.21M525.62 649.7L543.52 635.62M552.66 633.65L568.64 637.63M578.83 639.7L594.63 642.2M604.9 643.87L620.72 646.49M630.98 648.19L646.8 650.81M657.12 651.34L672.82 650.36M735.32 639.61L751.1 637.43M761.18 638.39L777.4 643.87M787.52 645.9L803.22 646.98M813.59 647.8L829.31 649.22M839.69 649.68L855.37 649.68M865 646.96L882.22 636.38M891.74 634.71L907.64 638.01M917.87 639.84L933.67 642.24M943.96 643.77L959.74 646.05M970.03 647.62L985.83 650.12M996.12 651.69L1011.9 653.97M1022.24 654.43L1037.94 653.57M1047.64 650.7L1064.7 640.92M1074.3 639.39L1090.2 642.69M1100.45 644.35L1116.21 646.19M1126.47 647.82L1142.35 651M1152.61 652.7L1168.37 654.76M1178.72 655.69L1194.42 656.45M1204.81 656.59L1220.49 656.27M1230.74 654.91L1246.72 650.93" stroke="#2e9e2e" stroke-width="1.7" fill="none" stroke-opacity="1.0" stroke-linecap="butt"/>
<path d="M108.96 625.61L125.62 633.43M135.4 636.79L151.34 640.43M161.58 642.15L177.32 643.89M187.69 644.35L203.37 644.03M213.3 641.76L229.92 634.2M239.7 633.26L255.68 637.12M265.84 639.29L281.7 642.25M292.01 643.34L307.69 643.78M318.09 644.03L333.77 644.35M342.4 640.55L361.62 618.67M370.13 615.88L386.05 619.4M395.86 622.68L412.48 630.24M422.19 633.91L438.31 638.81M448.46 640.89L464.2 642.63M474.53 643.84L490.29 645.8M500.65 646.58L516.33 647.02M525.41 643.7L543.73 627.4M552.61 625.36L568.69 629.9M578.81 632.24L594.65 635.08M604.88 636.95L620.74 639.91M630.96 641.85L646.82 644.91M657.13 646.01L672.81 646.33M735.35 632.33L751.07 631.03M761.25 632.02L777.33 636.56M787.47 638.8L803.27 641.3M813.51 643.14L829.39 646.32M839.69 647.56L855.37 648.2M865.77 648.42L881.45 648.42M890.94 645.49L908.44 633.53M917.84 631.59L933.7 634.65M943.93 636.56L959.77 639.4M970 641.27L985.86 644.23M996.07 646.2L1011.95 649.38M1022.25 650.36L1037.93 650.26M1048.33 650.22L1064.01 650.22M1073.72 647.64L1090.78 637.86M1100.45 635.96L1116.21 638.02M1126.45 639.82L1142.37 643.34M1152.55 645.48L1168.43 648.66M1178.71 650.14L1194.43 651.56M1204.81 652.02L1220.49 652.02M1230.88 652.38L1246.58 653.46" stroke="#2525b0" stroke-width="1.7" fill="none" stroke-opacity="1.0" stroke-linecap="butt"/>
<path d="M108.56 616.23L126.02 628.05M135.27 632.6L151.47 637.96M161.45 640.89L177.45 644.97M187.69 646.12L203.37 645.68M213.03 642.86L230.19 632.56M239.68 631.2L255.7 635.4M265.84 637.67L281.7 640.63M291.97 642.26L307.73 644.32M318.08 645.25L333.78 646.01M341.69 641.83L362.33 608.21M370.07 605.13L386.11 609.45M395.6 613.45L412.74 623.63M421.95 628.41L438.55 635.85M448.44 638.73L464.22 641.01M474.51 642.58L490.31 645.08M500.65 645.79L516.33 645.47M524.66 641.21L544.48 614.95M552.33 612.98L568.97 620.68M578.75 624.05L594.71 627.79M604.94 629.55L620.68 631.29M631.01 632.54L646.77 634.6M656.96 633.96L672.98 629.76M735.29 617.8L751.13 614.96M761.04 616.06L777.54 623M787.51 625.48L803.23 626.9M813.59 626.9L829.31 625.48M839.63 624.24L855.43 621.84M865.77 620.92L881.45 620.48M891.79 619.56L907.59 617.16M917.9 616.95L933.64 618.69M943.67 621.11L960.03 627.31M970.01 630.04L985.85 632.78M996.16 634.05L1011.86 635.25M1022.04 634.19L1038.14 629.53M1048.29 628.72L1064.05 630.68M1074.24 630L1090.26 625.8M1100.38 625.53L1116.28 628.83M1126.36 631.33L1142.46 635.99M1152.59 638.26L1168.39 640.76M1178.73 641.44L1194.41 641M1204.69 639.77L1220.61 636.37M1230.88 635.57L1246.58 636.43" stroke="#ff2020" stroke-width="1.7" fill="none" stroke-opacity="1.0" stroke-linecap="butt"/>
<rect x="100.5" y="618.75" width="7.5" height="7.5" fill="#000"/><rect x="126.58" y="631.35" width="7.5" height="7.5" fill="#000"/><rect x="152.66" y="637.83" width="7.5" height="7.5" fill="#000"/><rect x="178.74" y="640.71" width="7.5" height="7.5" fill="#000"/><rect x="204.82" y="640.17" width="7.5" height="7.5" fill="#000"/><rect x="230.9" y="628.29" width="7.5" height="7.5" fill="#000"/><rect x="256.98" y="634.59" width="7.5" height="7.5" fill="#000"/><rect x="283.06" y="639.45" width="7.5" height="7.5" fill="#000"/><rect x="309.14" y="640.17" width="7.5" height="7.5" fill="#000"/><rect x="335.22" y="640.71" width="7.5" height="7.5" fill="#000"/><rect x="361.3" y="607.41" width="7.5" height="7.5" fill="#000"/><rect x="387.38" y="616.77" width="7.5" height="7.5" fill="#000"/><rect x="413.46" y="625.05" width="7.5" height="7.5" fill="#000"/><rect x="439.54" y="636.57" width="7.5" height="7.5" fill="#000"/><rect x="465.62" y="639.45" width="7.5" height="7.5" fill="#000"/><rect x="491.7" y="642.69" width="7.5" height="7.5" fill="#000"/><rect x="517.78" y="643.41" width="7.5" height="7.5" fill="#000"/><rect x="543.86" y="616.41" width="7.5" height="7.5" fill="#000"/><rect x="569.94" y="623.61" width="7.5" height="7.5" fill="#000"/><rect x="596.02" y="632.25" width="7.5" height="7.5" fill="#000"/><rect x="622.1" y="637.11" width="7.5" height="7.5" fill="#000"/><rect x="648.18" y="642.15" width="7.5" height="7.5" fill="#000"/><rect x="674.26" y="642.69" width="7.5" height="7.5" fill="#000"/><rect x="726.42" y="632.25" width="7.5" height="7.5" fill="#000"/><rect x="752.5" y="626.85" width="7.5" height="7.5" fill="#000"/><rect x="778.58" y="634.23" width="7.5" height="7.5" fill="#000"/><rect x="804.66" y="638.37" width="7.5" height="7.5" fill="#000"/><rect x="830.74" y="643.59" width="7.5" height="7.5" fill="#000"/><rect x="856.82" y="644.67" width="7.5" height="7.5" fill="#000"/><rect x="882.9" y="644.67" width="7.5" height="7.5" fill="#000"/><rect x="908.98" y="626.85" width="7.5" height="7.5" fill="#000"/><rect x="935.06" y="631.89" width="7.5" height="7.5" fill="#000"/><rect x="961.14" y="636.57" width="7.5" height="7.5" fill="#000"/><rect x="987.22" y="641.43" width="7.5" height="7.5" fill="#000"/><rect x="1013.3" y="646.65" width="7.5" height="7.5" fill="#000"/><rect x="1039.38" y="646.47" width="7.5" height="7.5" fill="#000"/><rect x="1065.46" y="646.47" width="7.5" height="7.5" fill="#000"/><rect x="1091.54" y="631.53" width="7.5" height="7.5" fill="#000"/><rect x="1117.62" y="634.95" width="7.5" height="7.5" fill="#000"/><rect x="1143.7" y="640.71" width="7.5" height="7.5" fill="#000"/><rect x="1169.78" y="645.93" width="7.5" height="7.5" fill="#000"/><rect x="1195.86" y="648.27" width="7.5" height="7.5" fill="#000"/><rect x="1221.94" y="648.27" width="7.5" height="7.5" fill="#000"/><rect x="1248.02" y="647.55" width="7.5" height="7.5" fill="#000"/>
<circle cx="104.25" cy="638.7" r="4.1" fill="#008000"/><circle cx="130.33" cy="649.14" r="4.1" fill="#008000"/><circle cx="156.41" cy="653.64" r="4.1" fill="#008000"/><circle cx="182.49" cy="657.96" r="4.1" fill="#008000"/><circle cx="208.57" cy="656.16" r="4.1" fill="#008000"/><circle cx="234.65" cy="644.46" r="4.1" fill="#008000"/><circle cx="260.73" cy="649.68" r="4.1" fill="#008000"/><circle cx="286.81" cy="653.28" r="4.1" fill="#008000"/><circle cx="312.89" cy="655.08" r="4.1" fill="#008000"/><circle cx="338.97" cy="655.08" r="4.1" fill="#008000"/><circle cx="365.05" cy="626.28" r="4.1" fill="#008000"/><circle cx="391.13" cy="634.2" r="4.1" fill="#008000"/><circle cx="417.21" cy="642.66" r="4.1" fill="#008000"/><circle cx="443.29" cy="648.78" r="4.1" fill="#008000"/><circle cx="469.37" cy="650.04" r="4.1" fill="#008000"/><circle cx="495.45" cy="654.36" r="4.1" fill="#008000"/><circle cx="521.53" cy="652.92" r="4.1" fill="#008000"/><circle cx="547.61" cy="632.4" r="4.1" fill="#008000"/><circle cx="573.69" cy="638.88" r="4.1" fill="#008000"/><circle cx="599.77" cy="643.02" r="4.1" fill="#008000"/><circle cx="625.85" cy="647.34" r="4.1" fill="#008000"/><circle cx="651.93" cy="651.66" r="4.1" fill="#008000"/><circle cx="678.01" cy="650.04" r="4.1" fill="#008000"/><circle cx="730.17" cy="640.32" r="4.1" fill="#008000"/><circle cx="756.25" cy="636.72" r="4.1" fill="#008000"/><circle cx="782.33" cy="645.54" r="4.1" fill="#008000"/><circle cx="808.41" cy="647.34" r="4.1" fill="#008000"/><circle cx="834.49" cy="649.68" r="4.1" fill="#008000"/><circle cx="860.57" cy="649.68" r="4.1" fill="#008000"/><circle cx="886.65" cy="633.66" r="4.1" fill="#008000"/><circle cx="912.73" cy="639.06" r="4.1" fill="#008000"/><circle cx="938.81" cy="643.02" r="4.1" fill="#008000"/><circle cx="964.89" cy="646.8" r="4.1" fill="#008000"/><circle cx="990.97" cy="650.94" r="4.1" fill="#008000"/><circle cx="1017.05" cy="654.72" r="4.1" fill="#008000"/><circle cx="1043.13" cy="653.28" r="4.1" fill="#008000"/><circle cx="1069.21" cy="638.34" r="4.1" fill="#008000"/><circle cx="1095.29" cy="643.74" r="4.1" fill="#008000"/><circle cx="1121.37" cy="646.8" r="4.1" fill="#008000"/><circle cx="1147.45" cy="652.02" r="4.1" fill="#008000"/><circle cx="1173.53" cy="655.44" r="4.1" fill="#008000"/><circle cx="1199.61" cy="656.7" r="4.1" fill="#008000"/><circle cx="1225.69" cy="656.16" r="4.1" fill="#008000"/><circle cx="1251.77" cy="649.68" r="4.1" fill="#008000"/>
<path d="M104.25 618.24L109.05 626.84L99.45 626.84Z" fill="#0000a0"/><path d="M130.33 630.48L135.13 639.08L125.53 639.08Z" fill="#0000a0"/><path d="M156.41 636.42L161.21 645.02L151.61 645.02Z" fill="#0000a0"/><path d="M182.49 639.3L187.29 647.9L177.69 647.9Z" fill="#0000a0"/><path d="M208.57 638.76L213.37 647.36L203.77 647.36Z" fill="#0000a0"/><path d="M234.65 626.88L239.45 635.48L229.85 635.48Z" fill="#0000a0"/><path d="M260.73 633.18L265.53 641.78L255.93 641.78Z" fill="#0000a0"/><path d="M286.81 638.04L291.61 646.64L282.01 646.64Z" fill="#0000a0"/><path d="M312.89 638.76L317.69 647.36L308.09 647.36Z" fill="#0000a0"/><path d="M338.97 639.3L343.77 647.9L334.17 647.9Z" fill="#0000a0"/><path d="M365.05 609.6L369.85 618.2L360.25 618.2Z" fill="#0000a0"/><path d="M391.13 615.36L395.93 623.96L386.33 623.96Z" fill="#0000a0"/><path d="M417.21 627.24L422.01 635.84L412.41 635.84Z" fill="#0000a0"/><path d="M443.29 635.16L448.09 643.76L438.49 643.76Z" fill="#0000a0"/><path d="M469.37 638.04L474.17 646.64L464.57 646.64Z" fill="#0000a0"/><path d="M495.45 641.28L500.25 649.88L490.65 649.88Z" fill="#0000a0"/><path d="M521.53 642L526.33 650.6L516.73 650.6Z" fill="#0000a0"/><path d="M547.61 618.78L552.41 627.38L542.81 627.38Z" fill="#0000a0"/><path d="M573.69 626.16L578.49 634.76L568.89 634.76Z" fill="#0000a0"/><path d="M599.77 630.84L604.57 639.44L594.97 639.44Z" fill="#0000a0"/><path d="M625.85 635.7L630.65 644.3L621.05 644.3Z" fill="#0000a0"/><path d="M651.93 640.74L656.73 649.34L647.13 649.34Z" fill="#0000a0"/><path d="M678.01 641.28L682.81 649.88L673.21 649.88Z" fill="#0000a0"/><path d="M730.17 627.6L734.97 636.2L725.37 636.2Z" fill="#0000a0"/><path d="M756.25 625.44L761.05 634.04L751.45 634.04Z" fill="#0000a0"/><path d="M782.33 632.82L787.13 641.42L777.53 641.42Z" fill="#0000a0"/><path d="M808.41 636.96L813.21 645.56L803.61 645.56Z" fill="#0000a0"/><path d="M834.49 642.18L839.29 650.78L829.69 650.78Z" fill="#0000a0"/><path d="M860.57 643.26L865.37 651.86L855.77 651.86Z" fill="#0000a0"/><path d="M886.65 643.26L891.45 651.86L881.85 651.86Z" fill="#0000a0"/><path d="M912.73 625.44L917.53 634.04L907.93 634.04Z" fill="#0000a0"/><path d="M938.81 630.48L943.61 639.08L934.01 639.08Z" fill="#0000a0"/><path d="M964.89 635.16L969.69 643.76L960.09 643.76Z" fill="#0000a0"/><path d="M990.97 640.02L995.77 648.62L986.17 648.62Z" fill="#0000a0"/><path d="M1017.05 645.24L1021.85 653.84L1012.25 653.84Z" fill="#0000a0"/><path d="M1043.13 645.06L1047.93 653.66L1038.33 653.66Z" fill="#0000a0"/><path d="M1069.21 645.06L1074.01 653.66L1064.41 653.66Z" fill="#0000a0"/><path d="M1095.29 630.12L1100.09 638.72L1090.49 638.72Z" fill="#0000a0"/><path d="M1121.37 633.54L1126.17 642.14L1116.57 642.14Z" fill="#0000a0"/><path d="M1147.45 639.3L1152.25 647.9L1142.65 647.9Z" fill="#0000a0"/><path d="M1173.53 644.52L1178.33 653.12L1168.73 653.12Z" fill="#0000a0"/><path d="M1199.61 646.86L1204.41 655.46L1194.81 655.46Z" fill="#0000a0"/><path d="M1225.69 646.86L1230.49 655.46L1220.89 655.46Z" fill="#0000a0"/><path d="M1251.77 648.66L1256.57 657.26L1246.97 657.26Z" fill="#0000a0"/>
<path d="M104.25 618.48L109.05 609.88L99.45 609.88Z" fill="#ff0000"/><path d="M130.33 636.12L135.13 627.52L125.53 627.52Z" fill="#ff0000"/><path d="M156.41 644.76L161.21 636.16L151.61 636.16Z" fill="#ff0000"/><path d="M182.49 651.42L187.29 642.82L177.69 642.82Z" fill="#ff0000"/><path d="M208.57 650.7L213.37 642.1L203.77 642.1Z" fill="#ff0000"/><path d="M234.65 635.04L239.45 626.44L229.85 626.44Z" fill="#ff0000"/><path d="M260.73 641.88L265.53 633.28L255.93 633.28Z" fill="#ff0000"/><path d="M286.81 646.74L291.61 638.14L282.01 638.14Z" fill="#ff0000"/><path d="M312.89 650.16L317.69 641.56L308.09 641.56Z" fill="#ff0000"/><path d="M338.97 651.42L343.77 642.82L334.17 642.82Z" fill="#ff0000"/><path d="M365.05 608.94L369.85 600.34L360.25 600.34Z" fill="#ff0000"/><path d="M391.13 615.96L395.93 607.36L386.33 607.36Z" fill="#ff0000"/><path d="M417.21 631.44L422.01 622.84L412.41 622.84Z" fill="#ff0000"/><path d="M443.29 643.14L448.09 634.54L438.49 634.54Z" fill="#ff0000"/><path d="M469.37 646.92L474.17 638.32L464.57 638.32Z" fill="#ff0000"/><path d="M495.45 651.06L500.25 642.46L490.65 642.46Z" fill="#ff0000"/><path d="M521.53 650.52L526.33 641.92L516.73 641.92Z" fill="#ff0000"/><path d="M547.61 615.96L552.41 607.36L542.81 607.36Z" fill="#ff0000"/><path d="M573.69 628.02L578.49 619.42L568.89 619.42Z" fill="#ff0000"/><path d="M599.77 634.14L604.57 625.54L594.97 625.54Z" fill="#ff0000"/><path d="M625.85 637.02L630.65 628.42L621.05 628.42Z" fill="#ff0000"/><path d="M651.93 640.44L656.73 631.84L647.13 631.84Z" fill="#ff0000"/><path d="M678.01 633.6L682.81 625L673.21 625Z" fill="#ff0000"/><path d="M730.17 623.88L734.97 615.28L725.37 615.28Z" fill="#ff0000"/><path d="M756.25 619.2L761.05 610.6L751.45 610.6Z" fill="#ff0000"/><path d="M782.33 630.18L787.13 621.58L777.53 621.58Z" fill="#ff0000"/><path d="M808.41 632.52L813.21 623.92L803.61 623.92Z" fill="#ff0000"/><path d="M834.49 630.18L839.29 621.58L829.69 621.58Z" fill="#ff0000"/><path d="M860.57 626.22L865.37 617.62L855.77 617.62Z" fill="#ff0000"/><path d="M886.65 625.5L891.45 616.9L881.85 616.9Z" fill="#ff0000"/><path d="M912.73 621.54L917.53 612.94L907.93 612.94Z" fill="#ff0000"/><path d="M938.81 624.42L943.61 615.82L934.01 615.82Z" fill="#ff0000"/><path d="M964.89 634.32L969.69 625.72L960.09 625.72Z" fill="#ff0000"/><path d="M990.97 638.82L995.77 630.22L986.17 630.22Z" fill="#ff0000"/><path d="M1017.05 640.8L1021.85 632.2L1012.25 632.2Z" fill="#ff0000"/><path d="M1043.13 633.24L1047.93 624.64L1038.33 624.64Z" fill="#ff0000"/><path d="M1069.21 636.48L1074.01 627.88L1064.41 627.88Z" fill="#ff0000"/><path d="M1095.29 629.64L1100.09 621.04L1090.49 621.04Z" fill="#ff0000"/><path d="M1121.37 635.04L1126.17 626.44L1116.57 626.44Z" fill="#ff0000"/><path d="M1147.45 642.6L1152.25 634L1142.65 634Z" fill="#ff0000"/><path d="M1173.53 646.74L1178.33 638.14L1168.73 638.14Z" fill="#ff0000"/><path d="M1199.61 646.02L1204.41 637.42L1194.81 637.42Z" fill="#ff0000"/><path d="M1225.69 640.44L1230.49 631.84L1220.89 631.84Z" fill="#ff0000"/><path d="M1251.77 641.88L1256.57 633.28L1246.97 633.28Z" fill="#ff0000"/>
</g>
<path d="M78 540.6H86M1277 540.6H1269M78 585.6H86M1277 585.6H1269M78 630.6H86M1277 630.6H1269M78 675.6H86M1277 675.6H1269M78 518.1H82.5M1277 518.1H1272.5M78 563.1H82.5M1277 563.1H1272.5M78 608.1H82.5M1277 608.1H1272.5M78 653.1H82.5M1277 653.1H1272.5M78 698.1H82.5M1277 698.1H1272.5" stroke="#606060" stroke-width="1.6" fill="none"/>
<rect x="78" y="495.6" width="1199" height="225" fill="none" stroke="#606060" stroke-width="2.3"/>
<text transform="translate(71 495.6) scale(1 1.06)" y="7.1" text-anchor="end">125</text>
<text transform="translate(71 540.6) scale(1 1.06)" y="7.1" text-anchor="end">100</text>
<text transform="translate(71 585.6) scale(1 1.06)" y="7.1" text-anchor="end">75</text>
<text transform="translate(71 630.6) scale(1 1.06)" y="7.1" text-anchor="end">50</text>
<text transform="translate(71 675.6) scale(1 1.06)" y="7.1" text-anchor="end">25</text>
<text transform="translate(71 720.6) scale(1 1.06)" y="7.1" text-anchor="end">0</text>
<path d="M78 787.54H1277M78 832.58H1277M78 877.62H1277M78 922.66H1277M222 742.5V967.7M352 742.5V967.7M535 742.5V967.7M717.5 742.5V967.7M899 742.5V967.7M1083.8 742.5V967.7" stroke="#e1e1e1" stroke-width="1.5" fill="none"/>
<g clip-path="url(#cpd)">
<path d="M104.25 742.5V789M130.33 768V811.5M156.41 803.3V831.4M182.49 815V838.4M208.57 816.2V842M260.73 822V843.1M312.89 850.1V861.9M365.05 803.3V830" stroke="#8a8a8a" stroke-width="1.4" fill="none"/>
<path d="M100.95 742.5H107.55M100.95 789H107.55M127.03 768H133.63M127.03 811.5H133.63M153.11 803.3H159.71M153.11 831.4H159.71M179.19 815H185.79M179.19 838.4H185.79M205.27 816.2H211.87M205.27 842H211.87M257.43 822H264.03M257.43 843.1H264.03M309.59 850.1H316.19M309.59 861.9H316.19M361.75 803.3H368.35M361.75 830H368.35" stroke="#5a5a5a" stroke-width="1.5" fill="none"/>
<path d="M107.51 763.13L127.07 787.45M134.11 795.08L152.63 812.61M161.24 818.12L177.66 824.7M187.64 827.35L203.42 829.53M213.23 827.92L229.99 819.58M239.05 820.03L256.33 830.89M265.21 836.29L282.33 846.34M291.89 850.1L307.81 853.62M318.06 855.31L333.8 857.05M341.91 853.33L362.11 823.9M369.53 822.24L386.65 832.29M395.79 837.24L412.55 845.58M421.9 850.13L438.6 858.09M448.16 862.14L464.5 868.24M474.52 870.8L490.3 873.09M500.64 874.12L516.34 874.99M525.82 872.34L543.32 860.38M552.59 858.95L568.71 863.86M578.76 866.52L594.7 870.16M604.69 873.01L620.93 878.62M630.97 881.21L646.81 883.94M657.11 885.33L672.83 886.85M683.21 887.56L698.89 888.21M709.1 887.04L725.16 882.61M735.31 882L751.11 884.41M761.4 885.93L777.18 888.22M787.49 889.61L803.25 891.57M813.59 892.68L829.31 894.09M839.69 894.7L855.37 895.13M865.77 895.28L881.45 895.28M891.63 893.76L907.75 888.86M917.88 888.06L933.66 890.24M943.98 891.49L959.72 893.12M970.08 894.05L985.78 895.24M996.17 895.78L1011.85 896.21M1022.25 896.5L1037.93 896.93M1048.33 897.08L1064.01 897.08M1074.16 895.47L1090.34 890.22M1100.41 889.49L1116.25 892.23M1126.55 893.61L1142.27 895.14M1152.65 895.78L1168.33 896.21M1178.73 896.5L1194.41 896.93M1204.81 897.08L1220.49 897.08M1230.89 897.29L1246.57 897.94" stroke="#111" stroke-width="1.7" fill="none" stroke-opacity="1.0" stroke-linecap="butt"/>
<path d="M107.4 737.63L127.18 763.59M134.17 771.23L152.57 788M161.23 793.47L177.67 800.17M187.61 803.05L203.45 805.9M213.55 805.34L229.67 800.55M238.91 802.05L256.47 814.29M265.31 819.73L282.23 828.85M291.8 832.77L307.9 837.44M318.07 839.35L333.79 840.76M342.39 837.31L361.63 815.24M369.64 813.76L386.54 822.75M395.91 827.24L412.43 834.32M421.99 838.41L438.51 845.49M448.15 849.38L464.51 855.6M474.5 858.29L490.32 860.92M500.64 862.02L516.34 862.78M526.21 860.76L542.93 852.68M552.59 851.9L568.71 856.68M578.7 859.55L594.76 863.98M604.82 866.59L620.8 870.45M630.99 872.49L646.79 875M657.12 876.18L672.82 877.26M683.21 877.8L698.89 878.34M709.25 877.84L725.01 875.77M735.33 875.77L751.09 877.84M761.42 879.06L777.16 880.69M787.49 881.9L803.25 883.97M813.58 885.18L829.32 886.81M839.69 887.46L855.37 887.78M865.77 888L881.45 888.32M891.7 887.17L907.68 883.2M917.92 882.3L933.62 883.39M944 884.14L959.7 885.33M970.05 886.4L985.81 888.47M996.17 889.33L1011.85 889.87M1022.24 890.3L1037.94 891.06M1048.32 891.06L1064.02 890.3M1074.32 889.06L1090.18 885.99M1100.48 885.26L1116.18 886.02M1126.53 886.91L1142.29 888.87M1152.65 889.62L1168.33 889.94M1178.73 890.16L1194.41 890.48M1204.81 890.74L1220.49 891.17M1230.88 891.56L1246.58 892.32" stroke="#2e9e2e" stroke-width="1.7" fill="none" stroke-opacity="1.0" stroke-linecap="butt"/>
<path d="M107.63 790.77L126.95 813.32M134.28 820.65L152.46 836.22M161.38 841.15L177.52 846.17M187.64 848.43L203.42 850.6M212.67 848.12L230.55 834.16M238.87 833.99L256.51 846.66M265.36 852.06L282.18 860.66M291.88 864.18L307.82 867.82M318.06 869.51L333.8 871.14M341.62 867.2L362.4 832.01M369.38 830.41L386.8 841.96M395.76 847.2L412.58 855.8M421.94 860.32L438.56 867.9M448.18 871.81L464.48 877.66M474.53 880.1L490.29 882.17M500.64 883.13L516.34 884M525.64 881.1L543.5 867.29M552.54 865.78L568.76 871.27M578.71 874.29L594.75 878.61M604.82 881.18L620.8 885.05M630.97 887.15L646.81 889.89M657.12 891.13L672.82 892.21M683.21 892.68L698.89 893.01M709.06 891.57L725.2 886.55M735.31 885.82L751.11 888.33M761.41 889.83L777.17 891.9M787.48 893.32L803.26 895.61M813.58 896.89L829.32 898.52M839.69 899.2L855.37 899.64M865.77 899.78L881.45 899.78M891.47 897.82L907.91 891.11M917.87 889.93L933.67 892.33M943.98 893.65L959.72 895.28M970.05 896.46L985.81 898.42M996.17 899.24L1011.85 899.78M1022.25 900.07L1037.93 900.39M1048.33 900.64L1064.01 901.08M1073.99 899.17L1090.51 892.1M1100.34 891.27L1116.32 895.13M1126.55 896.82L1142.27 898.23M1152.64 898.95L1168.34 899.71M1178.73 900.07L1194.41 900.39M1204.81 900.64L1220.49 901.08M1230.89 901.36L1246.57 901.8" stroke="#2525b0" stroke-width="1.7" fill="none" stroke-opacity="1.0" stroke-linecap="butt"/>
<path d="M108.03 761.03L126.55 778.56M134.51 785.23L152.23 798.32M161.39 802.89L177.51 807.68M187.64 809.87L203.42 812.05M213.74 813.3L229.48 814.93M239.29 817.81L256.09 826.28M265.47 830.75L282.07 838.2M291.89 841.42L307.81 844.82M318.07 846.38L333.79 847.79M343.43 845.58L360.59 835.26M370.03 834.09L386.15 838.99M396.07 842.14L412.27 847.52M422.13 850.85L438.37 856.47M448.27 859.64L464.39 864.43M474.55 866.37L490.27 867.79M500.64 868.61L516.34 869.69M526.65 869.13L542.49 866.29M552.73 866.29L568.57 869.13M578.82 870.9L594.64 873.53M604.88 875.36L620.74 878.43M631.01 880.1L646.77 882.17M657.12 883.17L672.82 884.14M683.21 884.61L698.89 885.04M709.28 884.9L724.98 884.03M735.36 884.14L751.06 885.33M761.43 886.16L777.15 887.46M787.5 888.43L803.24 890.06M813.6 890.84L829.3 891.6M839.69 892L855.37 892.43M865.77 892.57L881.45 892.57M891.79 891.76L907.59 889.25M917.92 888.72L933.62 889.58M944 890.26L959.7 891.46M970.08 892.1L985.78 892.86M996.17 893.01L1011.85 892.68M1022.25 892.57L1037.93 892.57M1048.33 892.68L1064.01 893.01M1074.36 892.4L1090.14 890.22M1100.48 889.87L1116.18 890.95M1126.57 891.46L1142.25 891.89M1152.65 892.14L1168.33 892.47M1178.73 892.68L1194.41 893.01M1204.81 893.11L1220.49 893.11M1230.89 893.26L1246.57 893.69" stroke="#ff2020" stroke-width="1.7" fill="none" stroke-opacity="1.0" stroke-linecap="butt"/>
<rect x="100.5" y="755.32" width="7.5" height="7.5" fill="#000"/><rect x="126.58" y="787.75" width="7.5" height="7.5" fill="#000"/><rect x="152.66" y="812.44" width="7.5" height="7.5" fill="#000"/><rect x="178.74" y="822.88" width="7.5" height="7.5" fill="#000"/><rect x="204.82" y="826.49" width="7.5" height="7.5" fill="#000"/><rect x="230.9" y="813.52" width="7.5" height="7.5" fill="#000"/><rect x="256.98" y="829.91" width="7.5" height="7.5" fill="#000"/><rect x="283.06" y="845.22" width="7.5" height="7.5" fill="#000"/><rect x="309.14" y="850.99" width="7.5" height="7.5" fill="#000"/><rect x="335.22" y="853.87" width="7.5" height="7.5" fill="#000"/><rect x="361.3" y="815.86" width="7.5" height="7.5" fill="#000"/><rect x="387.38" y="831.17" width="7.5" height="7.5" fill="#000"/><rect x="413.46" y="844.14" width="7.5" height="7.5" fill="#000"/><rect x="439.54" y="856.57" width="7.5" height="7.5" fill="#000"/><rect x="465.62" y="866.3" width="7.5" height="7.5" fill="#000"/><rect x="491.7" y="870.09" width="7.5" height="7.5" fill="#000"/><rect x="517.78" y="871.53" width="7.5" height="7.5" fill="#000"/><rect x="543.86" y="853.69" width="7.5" height="7.5" fill="#000"/><rect x="569.94" y="861.62" width="7.5" height="7.5" fill="#000"/><rect x="596.02" y="867.56" width="7.5" height="7.5" fill="#000"/><rect x="622.1" y="876.57" width="7.5" height="7.5" fill="#000"/><rect x="648.18" y="881.08" width="7.5" height="7.5" fill="#000"/><rect x="674.26" y="883.6" width="7.5" height="7.5" fill="#000"/><rect x="700.34" y="884.68" width="7.5" height="7.5" fill="#000"/><rect x="726.42" y="877.47" width="7.5" height="7.5" fill="#000"/><rect x="752.5" y="881.44" width="7.5" height="7.5" fill="#000"/><rect x="778.58" y="885.22" width="7.5" height="7.5" fill="#000"/><rect x="804.66" y="888.46" width="7.5" height="7.5" fill="#000"/><rect x="830.74" y="890.81" width="7.5" height="7.5" fill="#000"/><rect x="856.82" y="891.53" width="7.5" height="7.5" fill="#000"/><rect x="882.9" y="891.53" width="7.5" height="7.5" fill="#000"/><rect x="908.98" y="883.6" width="7.5" height="7.5" fill="#000"/><rect x="935.06" y="887.2" width="7.5" height="7.5" fill="#000"/><rect x="961.14" y="889.9" width="7.5" height="7.5" fill="#000"/><rect x="987.22" y="891.89" width="7.5" height="7.5" fill="#000"/><rect x="1013.3" y="892.61" width="7.5" height="7.5" fill="#000"/><rect x="1039.38" y="893.33" width="7.5" height="7.5" fill="#000"/><rect x="1065.46" y="893.33" width="7.5" height="7.5" fill="#000"/><rect x="1091.54" y="884.86" width="7.5" height="7.5" fill="#000"/><rect x="1117.62" y="889.36" width="7.5" height="7.5" fill="#000"/><rect x="1143.7" y="891.89" width="7.5" height="7.5" fill="#000"/><rect x="1169.78" y="892.61" width="7.5" height="7.5" fill="#000"/><rect x="1195.86" y="893.33" width="7.5" height="7.5" fill="#000"/><rect x="1221.94" y="893.33" width="7.5" height="7.5" fill="#000"/><rect x="1248.02" y="894.41" width="7.5" height="7.5" fill="#000"/>
<circle cx="104.25" cy="733.49" r="4.1" fill="#008000"/><circle cx="130.33" cy="767.72" r="4.1" fill="#008000"/><circle cx="156.41" cy="791.5" r="4.1" fill="#008000"/><circle cx="182.49" cy="802.13" r="4.1" fill="#008000"/><circle cx="208.57" cy="806.82" r="4.1" fill="#008000"/><circle cx="234.65" cy="799.07" r="4.1" fill="#008000"/><circle cx="260.73" cy="817.27" r="4.1" fill="#008000"/><circle cx="286.81" cy="831.32" r="4.1" fill="#008000"/><circle cx="312.89" cy="838.89" r="4.1" fill="#008000"/><circle cx="338.97" cy="841.23" r="4.1" fill="#008000"/><circle cx="365.05" cy="811.32" r="4.1" fill="#008000"/><circle cx="391.13" cy="825.19" r="4.1" fill="#008000"/><circle cx="417.21" cy="836.36" r="4.1" fill="#008000"/><circle cx="443.29" cy="847.53" r="4.1" fill="#008000"/><circle cx="469.37" cy="857.44" r="4.1" fill="#008000"/><circle cx="495.45" cy="861.77" r="4.1" fill="#008000"/><circle cx="521.53" cy="863.03" r="4.1" fill="#008000"/><circle cx="547.61" cy="850.42" r="4.1" fill="#008000"/><circle cx="573.69" cy="858.16" r="4.1" fill="#008000"/><circle cx="599.77" cy="865.37" r="4.1" fill="#008000"/><circle cx="625.85" cy="871.67" r="4.1" fill="#008000"/><circle cx="651.93" cy="875.82" r="4.1" fill="#008000"/><circle cx="678.01" cy="877.62" r="4.1" fill="#008000"/><circle cx="704.09" cy="878.52" r="4.1" fill="#008000"/><circle cx="730.17" cy="875.1" r="4.1" fill="#008000"/><circle cx="756.25" cy="878.52" r="4.1" fill="#008000"/><circle cx="782.33" cy="881.22" r="4.1" fill="#008000"/><circle cx="808.41" cy="884.65" r="4.1" fill="#008000"/><circle cx="834.49" cy="887.35" r="4.1" fill="#008000"/><circle cx="860.57" cy="887.89" r="4.1" fill="#008000"/><circle cx="886.65" cy="888.43" r="4.1" fill="#008000"/><circle cx="912.73" cy="881.94" r="4.1" fill="#008000"/><circle cx="938.81" cy="883.75" r="4.1" fill="#008000"/><circle cx="964.89" cy="885.73" r="4.1" fill="#008000"/><circle cx="990.97" cy="889.15" r="4.1" fill="#008000"/><circle cx="1017.05" cy="890.05" r="4.1" fill="#008000"/><circle cx="1043.13" cy="891.31" r="4.1" fill="#008000"/><circle cx="1069.21" cy="890.05" r="4.1" fill="#008000"/><circle cx="1095.29" cy="885.01" r="4.1" fill="#008000"/><circle cx="1121.37" cy="886.27" r="4.1" fill="#008000"/><circle cx="1147.45" cy="889.51" r="4.1" fill="#008000"/><circle cx="1173.53" cy="890.05" r="4.1" fill="#008000"/><circle cx="1199.61" cy="890.59" r="4.1" fill="#008000"/><circle cx="1225.69" cy="891.31" r="4.1" fill="#008000"/><circle cx="1251.77" cy="892.57" r="4.1" fill="#008000"/>
<path d="M104.25 781.66L109.05 790.26L99.45 790.26Z" fill="#0000a0"/><path d="M130.33 812.11L135.13 820.71L125.53 820.71Z" fill="#0000a0"/><path d="M156.41 834.45L161.21 843.05L151.61 843.05Z" fill="#0000a0"/><path d="M182.49 842.55L187.29 851.15L177.69 851.15Z" fill="#0000a0"/><path d="M208.57 846.16L213.37 854.76L203.77 854.76Z" fill="#0000a0"/><path d="M234.65 825.8L239.45 834.4L229.85 834.4Z" fill="#0000a0"/><path d="M260.73 844.54L265.53 853.14L255.93 853.14Z" fill="#0000a0"/><path d="M286.81 857.87L291.61 866.47L282.01 866.47Z" fill="#0000a0"/><path d="M312.89 863.81L317.69 872.41L308.09 872.41Z" fill="#0000a0"/><path d="M338.97 866.51L343.77 875.11L334.17 875.11Z" fill="#0000a0"/><path d="M365.05 822.38L369.85 830.98L360.25 830.98Z" fill="#0000a0"/><path d="M391.13 839.67L395.93 848.27L386.33 848.27Z" fill="#0000a0"/><path d="M417.21 853L422.01 861.6L412.41 861.6Z" fill="#0000a0"/><path d="M443.29 864.89L448.09 873.49L438.49 873.49Z" fill="#0000a0"/><path d="M469.37 874.26L474.17 882.86L464.57 882.86Z" fill="#0000a0"/><path d="M495.45 877.68L500.25 886.28L490.65 886.28Z" fill="#0000a0"/><path d="M521.53 879.13L526.33 887.73L516.73 887.73Z" fill="#0000a0"/><path d="M547.61 858.95L552.41 867.55L542.81 867.55Z" fill="#0000a0"/><path d="M573.69 867.78L578.49 876.38L568.89 876.38Z" fill="#0000a0"/><path d="M599.77 874.8L604.57 883.4L594.97 883.4Z" fill="#0000a0"/><path d="M625.85 881.11L630.65 889.71L621.05 889.71Z" fill="#0000a0"/><path d="M651.93 885.61L656.73 894.21L647.13 894.21Z" fill="#0000a0"/><path d="M678.01 887.41L682.81 896.01L673.21 896.01Z" fill="#0000a0"/><path d="M704.09 887.95L708.89 896.55L699.29 896.55Z" fill="#0000a0"/><path d="M730.17 879.85L734.97 888.45L725.37 888.45Z" fill="#0000a0"/><path d="M756.25 883.99L761.05 892.59L751.45 892.59Z" fill="#0000a0"/><path d="M782.33 887.41L787.13 896.01L777.53 896.01Z" fill="#0000a0"/><path d="M808.41 891.2L813.21 899.8L803.61 899.8Z" fill="#0000a0"/><path d="M834.49 893.9L839.29 902.5L829.69 902.5Z" fill="#0000a0"/><path d="M860.57 894.62L865.37 903.22L855.77 903.22Z" fill="#0000a0"/><path d="M886.65 894.62L891.45 903.22L881.85 903.22Z" fill="#0000a0"/><path d="M912.73 883.99L917.53 892.59L907.93 892.59Z" fill="#0000a0"/><path d="M938.81 887.95L943.61 896.55L934.01 896.55Z" fill="#0000a0"/><path d="M964.89 890.66L969.69 899.26L960.09 899.26Z" fill="#0000a0"/><path d="M990.97 893.9L995.77 902.5L986.17 902.5Z" fill="#0000a0"/><path d="M1017.05 894.8L1021.85 903.4L1012.25 903.4Z" fill="#0000a0"/><path d="M1043.13 895.34L1047.93 903.94L1038.33 903.94Z" fill="#0000a0"/><path d="M1069.21 896.06L1074.01 904.66L1064.41 904.66Z" fill="#0000a0"/><path d="M1095.29 884.89L1100.09 893.49L1090.49 893.49Z" fill="#0000a0"/><path d="M1121.37 891.2L1126.17 899.8L1116.57 899.8Z" fill="#0000a0"/><path d="M1147.45 893.54L1152.25 902.14L1142.65 902.14Z" fill="#0000a0"/><path d="M1173.53 894.8L1178.33 903.4L1168.73 903.4Z" fill="#0000a0"/><path d="M1199.61 895.34L1204.41 903.94L1194.81 903.94Z" fill="#0000a0"/><path d="M1225.69 896.06L1230.49 904.66L1220.89 904.66Z" fill="#0000a0"/><path d="M1251.77 896.78L1256.57 905.38L1246.97 905.38Z" fill="#0000a0"/>
<path d="M104.25 762.61L109.05 754.01L99.45 754.01Z" fill="#ff0000"/><path d="M130.33 787.3L135.13 778.7L125.53 778.7Z" fill="#ff0000"/><path d="M156.41 806.57L161.21 797.97L151.61 797.97Z" fill="#ff0000"/><path d="M182.49 814.32L187.29 805.72L177.69 805.72Z" fill="#ff0000"/><path d="M208.57 817.92L213.37 809.32L203.77 809.32Z" fill="#ff0000"/><path d="M234.65 820.62L239.45 812.02L229.85 812.02Z" fill="#ff0000"/><path d="M260.73 833.78L265.53 825.18L255.93 825.18Z" fill="#ff0000"/><path d="M286.81 845.49L291.61 836.89L282.01 836.89Z" fill="#ff0000"/><path d="M312.89 851.07L317.69 842.47L308.09 842.47Z" fill="#ff0000"/><path d="M338.97 853.41L343.77 844.81L334.17 844.81Z" fill="#ff0000"/><path d="M365.05 837.74L369.85 829.14L360.25 829.14Z" fill="#ff0000"/><path d="M391.13 845.67L395.93 837.07L386.33 837.07Z" fill="#ff0000"/><path d="M417.21 854.31L422.01 845.71L412.41 845.71Z" fill="#ff0000"/><path d="M443.29 863.32L448.09 854.72L438.49 854.72Z" fill="#ff0000"/><path d="M469.37 871.07L474.17 862.47L464.57 862.47Z" fill="#ff0000"/><path d="M495.45 873.41L500.25 864.81L490.65 864.81Z" fill="#ff0000"/><path d="M521.53 875.21L526.33 866.61L516.73 866.61Z" fill="#ff0000"/><path d="M547.61 870.53L552.41 861.93L542.81 861.93Z" fill="#ff0000"/><path d="M573.69 875.21L578.49 866.61L568.89 866.61Z" fill="#ff0000"/><path d="M599.77 879.54L604.57 870.94L594.97 870.94Z" fill="#ff0000"/><path d="M625.85 884.58L630.65 875.98L621.05 875.98Z" fill="#ff0000"/><path d="M651.93 888L656.73 879.4L647.13 879.4Z" fill="#ff0000"/><path d="M678.01 889.63L682.81 881.03L673.21 881.03Z" fill="#ff0000"/><path d="M704.09 890.35L708.89 881.75L699.29 881.75Z" fill="#ff0000"/><path d="M730.17 888.91L734.97 880.31L725.37 880.31Z" fill="#ff0000"/><path d="M756.25 890.89L761.05 882.29L751.45 882.29Z" fill="#ff0000"/><path d="M782.33 893.05L787.13 884.45L777.53 884.45Z" fill="#ff0000"/><path d="M808.41 895.75L813.21 887.15L803.61 887.15Z" fill="#ff0000"/><path d="M834.49 897.01L839.29 888.41L829.69 888.41Z" fill="#ff0000"/><path d="M860.57 897.73L865.37 889.13L855.77 889.13Z" fill="#ff0000"/><path d="M886.65 897.73L891.45 889.13L881.85 889.13Z" fill="#ff0000"/><path d="M912.73 893.59L917.53 884.99L907.93 884.99Z" fill="#ff0000"/><path d="M938.81 895.03L943.61 886.43L934.01 886.43Z" fill="#ff0000"/><path d="M964.89 897.01L969.69 888.41L960.09 888.41Z" fill="#ff0000"/><path d="M990.97 898.27L995.77 889.67L986.17 889.67Z" fill="#ff0000"/><path d="M1017.05 897.73L1021.85 889.13L1012.25 889.13Z" fill="#ff0000"/><path d="M1043.13 897.73L1047.93 889.13L1038.33 889.13Z" fill="#ff0000"/><path d="M1069.21 898.27L1074.01 889.67L1064.41 889.67Z" fill="#ff0000"/><path d="M1095.29 894.67L1100.09 886.07L1090.49 886.07Z" fill="#ff0000"/><path d="M1121.37 896.47L1126.17 887.87L1116.57 887.87Z" fill="#ff0000"/><path d="M1147.45 897.19L1152.25 888.59L1142.65 888.59Z" fill="#ff0000"/><path d="M1173.53 897.73L1178.33 889.13L1168.73 889.13Z" fill="#ff0000"/><path d="M1199.61 898.27L1204.41 889.67L1194.81 889.67Z" fill="#ff0000"/><path d="M1225.69 898.27L1230.49 889.67L1220.89 889.67Z" fill="#ff0000"/><path d="M1251.77 898.99L1256.57 890.39L1246.97 890.39Z" fill="#ff0000"/>
</g>
<path d="M78 787.54H86M1277 787.54H1269M78 832.58H86M1277 832.58H1269M78 877.62H86M1277 877.62H1269M78 922.66H86M1277 922.66H1269M78 765.02H82.5M1277 765.02H1272.5M78 810.06H82.5M1277 810.06H1272.5M78 855.1H82.5M1277 855.1H1272.5M78 900.14H82.5M1277 900.14H1272.5M78 945.18H82.5M1277 945.18H1272.5" stroke="#606060" stroke-width="1.6" fill="none"/>
<rect x="78" y="742.5" width="1199" height="225.2" fill="none" stroke="#606060" stroke-width="2.3"/>
<text transform="translate(71 742.5) scale(1 1.06)" y="7.1" text-anchor="end">125</text>
<text transform="translate(71 787.54) scale(1 1.06)" y="7.1" text-anchor="end">100</text>
<text transform="translate(71 832.58) scale(1 1.06)" y="7.1" text-anchor="end">75</text>
<text transform="translate(71 877.62) scale(1 1.06)" y="7.1" text-anchor="end">50</text>
<text transform="translate(71 922.66) scale(1 1.06)" y="7.1" text-anchor="end">25</text>
<text transform="translate(71 967.7) scale(1 1.06)" y="7.1" text-anchor="end">0</text>
<path d="M78 1008.4H1277M78 1027.2H1277M78 1046H1277M78 1083.6H1277M78 1121.2H1277M78 1158.8H1277M78 1196.4H1277M222 989.6V1215.2M352 989.6V1215.2M535 989.6V1215.2M717.5 989.6V1215.2M899 989.6V1215.2M1083.8 989.6V1215.2" stroke="#e1e1e1" stroke-width="1.5" fill="none"/>
<g clip-path="url(#cpe)">
<path d="M104.25 1196.4V1196.4H130.33V1196.4H156.41V1196.4H182.49V1196.4H208.57V1158.8H234.65V1158.8H260.73V1158.8H286.81V1158.8H312.89V1158.8H338.97V1121.2H365.05V1121.2H391.13V1121.2H417.21V1121.2H443.29V1121.2H469.37V1121.2H495.45V1121.2H521.53V1083.6H547.61V1083.6H573.69V1083.6H599.77V1083.6H625.85V1083.6H651.93V1083.6H678.01V1083.6H704.09V1046H730.17V1046H756.25V1046H782.33V1046H808.41V1046H834.49V1046H860.57V1046H886.65V1027.2H912.73V1027.2H938.81V1027.2H964.89V1027.2H990.97V1027.2H1017.05V1027.2H1043.13V1027.2H1069.21V1008.4H1095.29V1008.4H1121.37V1008.4H1147.45V1008.4H1173.53V1008.4H1199.61V1008.4H1225.69V1008.4H1251.77" stroke="#000" stroke-width="2.8" fill="none" stroke-linejoin="miter"/>
<path d="M104.25 1121.2V1083.6H130.33V1046H156.41V1027.2H182.49V1008.4H208.57V1121.2H234.65V1083.6H260.73V1046H286.81V1027.2H312.89V1008.4H338.97V1196.4H365.05V1158.8H391.13V1121.2H417.21V1083.6H443.29V1046H469.37V1027.2H495.45V1008.4H521.53V1196.4H547.61V1158.8H573.69V1121.2H599.77V1083.6H625.85V1046H651.93V1027.2H678.01V1008.4H704.09V1196.4H730.17V1158.8H756.25V1121.2H782.33V1083.6H808.41V1046H834.49V1027.2H860.57V1008.4H886.65V1196.4H912.73V1158.8H938.81V1121.2H964.89V1083.6H990.97V1046H1017.05V1027.2H1043.13V1008.4H1069.21V1196.4H1095.29V1158.8H1121.37V1121.2H1147.45V1083.6H1173.53V1046H1199.61V1027.2H1225.69V1008.4H1251.77" stroke="#ff0000" stroke-width="2.8" fill="none" stroke-linejoin="miter"/>
</g>
<path d="M78 1008.4H86M1277 1008.4H1269M78 1046H86M1277 1046H1269M78 1083.6H86M1277 1083.6H1269M78 1121.2H86M1277 1121.2H1269M78 1158.8H86M1277 1158.8H1269M78 1196.4H86M1277 1196.4H1269M78 1027.2H82.5M1277 1027.2H1272.5M78 1064.8H82.5M1277 1064.8H1272.5M78 1102.4H82.5M1277 1102.4H1272.5M78 1140H82.5M1277 1140H1272.5M78 1177.6H82.5M1277 1177.6H1272.5" stroke="#606060" stroke-width="1.6" fill="none"/>
<rect x="78" y="989.6" width="1199" height="225.6" fill="none" stroke="#606060" stroke-width="2.3"/>
<text transform="translate(71 1008.4) scale(1 1.06)" y="7.1" text-anchor="end">100</text>
<text transform="translate(71 1046) scale(1 1.06)" y="7.1" text-anchor="end">80</text>
<text transform="translate(71 1083.6) scale(1 1.06)" y="7.1" text-anchor="end">60</text>
<text transform="translate(71 1121.2) scale(1 1.06)" y="7.1" text-anchor="end">40</text>
<text transform="translate(71 1158.8) scale(1 1.06)" y="7.1" text-anchor="end">20</text>
<text transform="translate(71 1196.4) scale(1 1.06)" y="7.1" text-anchor="end">0</text>
<text transform="translate(88.6 38.0) scale(1.12 1)" font-size="22">(a)</text>
<text transform="translate(90.2 273.0) scale(1.12 1)" font-size="22">(b)</text>
<text transform="translate(90.2 522.8) scale(1.12 1)" font-size="22">(c)</text>
<text transform="translate(89.4 912.2) scale(1.12 1)" font-size="22">(d)</text>
<text transform="translate(90.2 1013.6) scale(1.12 1)" font-size="22">(e)</text>
<text transform="translate(25.0 114.9) rotate(-90) scale(1.008 1)" text-anchor="middle" font-size="24">Cell voltage / mV</text>
<text transform="translate(19.3 340.2) rotate(-90) scale(1.014 1)" text-anchor="middle" font-size="24">Bulk losses / mV</text>
<text transform="translate(20.2 598.8) rotate(-90) scale(1.016 1)" text-anchor="middle" font-size="24">Non-bulk losses / mV</text>
<text transform="translate(20.5 834.4) rotate(-90) scale(1.03 1)" text-anchor="middle" font-size="24">Ohmic losses / mV</text>
<text transform="translate(19.8 1086.2) rotate(-90) scale(1.055 1)" text-anchor="middle" font-size="24">RH / %</text>
<rect x="1034" y="744" width="240" height="134" fill="#fff"/>
<text x="1135.5" y="773.2" text-anchor="middle" font-weight="bold" font-size="20" class="b">Anode</text>
<text x="1225.3" y="773.2" text-anchor="middle" font-weight="bold" font-size="20" class="b">Cathode</text>
<path d="M1051.5 791.2H1068.8M1080.2 791.2H1096.4" stroke="#555" stroke-width="1.8"/>
<rect x="1070.75" y="787.45" width="7.5" height="7.5" fill="#000"/>
<text x="1135" y="798.4" text-anchor="middle">5%</text>
<text x="1216.5" y="798.4" text-anchor="middle">5%</text>
<path d="M1051.5 815.8H1068.8M1080.2 815.8H1096.4" stroke="#4aa84a" stroke-width="1.8"/>
<circle cx="1074.5" cy="815.8" r="4.1" fill="#008000"/>
<text x="1135" y="823" text-anchor="middle">5%</text>
<text x="1216.5" y="823" text-anchor="middle">0%</text>
<path d="M1051.5 840.6H1068.8M1080.2 840.6H1096.4" stroke="#2a2ab0" stroke-width="1.8"/>
<path d="M1074.5 835.44L1079.3 844.04L1069.7 844.04Z" fill="#0000a0"/>
<text x="1135" y="847.8" text-anchor="middle">0%</text>
<text x="1216.5" y="847.8" text-anchor="middle">5%</text>
<path d="M1051.5 865.6H1068.8M1080.2 865.6H1096.4" stroke="#ff3a3a" stroke-width="1.8"/>
<path d="M1074.5 870.76L1079.3 862.16L1069.7 862.16Z" fill="#ff0000"/>
<text x="1135" y="872.8" text-anchor="middle">5%</text>
<text x="1216.5" y="872.8" text-anchor="middle">20%</text>
<rect x="95.6" y="935" width="235" height="24.7" fill="#fff" stroke="#6a6a6a" stroke-width="1.2"/>
<path d="M102.6 949.1H143.6" stroke="#000" stroke-width="2.6"/>
<text x="148" y="955.8" font-size="18">Anode</text>
<path d="M213.9 949.1H256.1" stroke="#ff0000" stroke-width="2.6"/>
<text x="260" y="955.8" font-size="18">Cathode</text>
</g>
</svg>
</body></html>
